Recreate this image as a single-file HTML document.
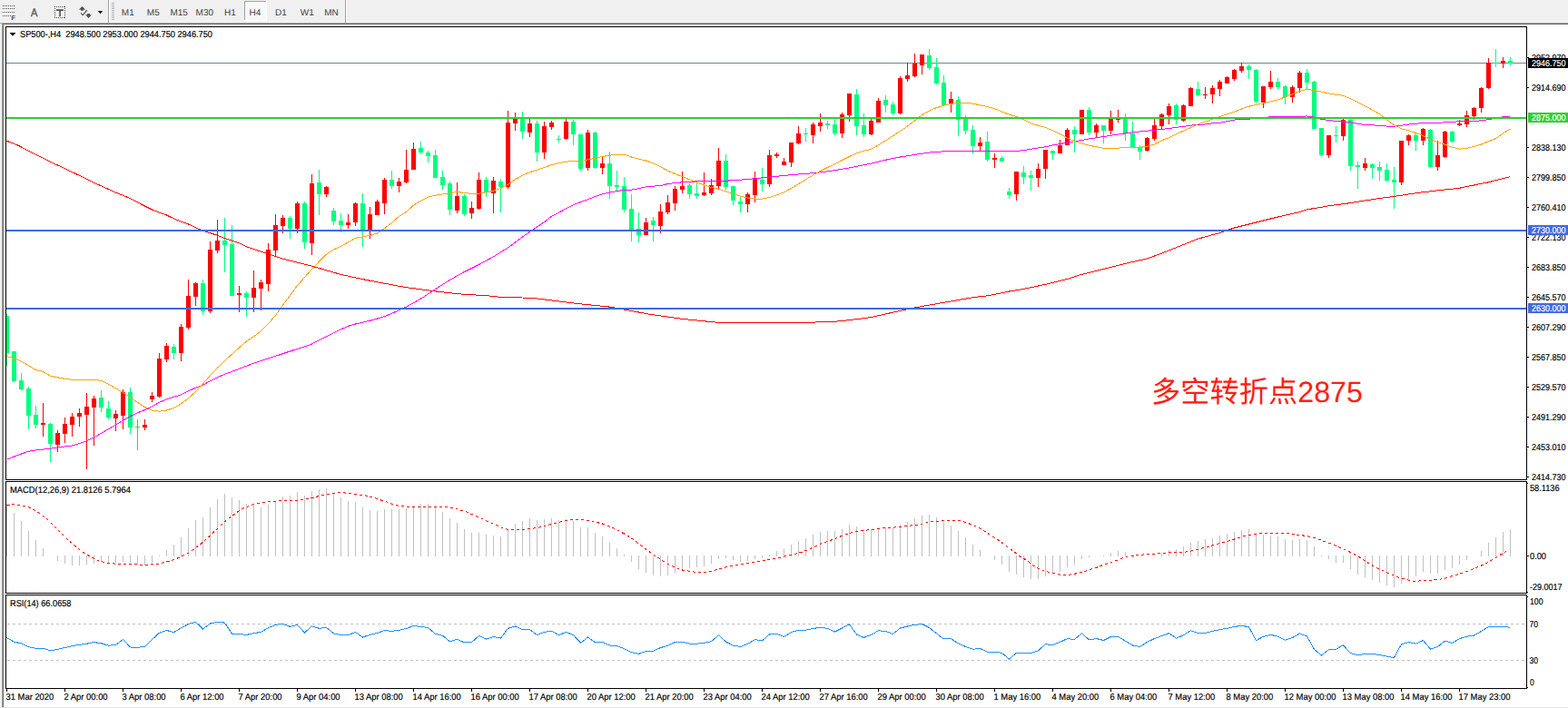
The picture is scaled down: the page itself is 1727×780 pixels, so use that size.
<!DOCTYPE html>
<html><head><meta charset="utf-8"><title>SP500-,H4</title>
<style>html,body{margin:0;padding:0;background:#fff;}body{width:1727px;height:780px;overflow:hidden;font-family:"Liberation Sans",sans-serif;}svg{display:block;}text{font-family:"Liberation Sans",sans-serif;}</style>
</head><body>
<svg width="1727" height="780" viewBox="0 0 1727 780" shape-rendering="crispEdges" text-rendering="geometricPrecision" font-family="Liberation Sans, sans-serif">
<rect x="0" y="0" width="1727" height="780" fill="#ffffff"/>
<rect x="0" y="0" width="1727" height="25" fill="#f0f0f0"/>
<rect x="0" y="25" width="2" height="755" fill="#f0f0f0"/>
<rect x="2" y="25" width="1" height="755" fill="#a0a0a0"/>
<rect x="3" y="26" width="1" height="754" fill="#696969"/>
<rect x="0" y="25" width="1727" height="1" fill="#a0a0a0"/>
<rect x="3" y="26" width="1724" height="1" fill="#696969"/>
<rect x="0" y="779" width="1727" height="1" fill="#e3e3e3"/>
<rect x="0" y="24" width="1727" height="1" fill="#f7f7f7"/>
<rect x="6" y="29" width="1676" height="1" fill="#000"/>
<rect x="6" y="528" width="1676" height="1" fill="#000"/>
<rect x="6" y="29" width="1" height="500" fill="#000"/>
<rect x="1681" y="29" width="1" height="500" fill="#000"/>
<rect x="6" y="530" width="1676" height="1" fill="#000"/>
<rect x="6" y="653" width="1676" height="1" fill="#000"/>
<rect x="6" y="530" width="1" height="124" fill="#000"/>
<rect x="1681" y="530" width="1" height="124" fill="#000"/>
<rect x="6" y="655" width="1676" height="1" fill="#000"/>
<rect x="6" y="758" width="1676" height="1" fill="#000"/>
<rect x="6" y="655" width="1" height="104" fill="#000"/>
<rect x="1681" y="655" width="1" height="104" fill="#000"/>
<rect x="7" y="69" width="1674" height="1" fill="#708090"/>
<g>
<rect x="7" y="346" width="1" height="57" fill="#00ff7f"/>
<rect x="7" y="348" width="3" height="41" fill="#00ff7f"/>
<rect x="15" y="387" width="1" height="34" fill="#00ff7f"/>
<rect x="13" y="387" width="5" height="33" fill="#00ff7f"/>
<rect x="23" y="411" width="1" height="19" fill="#00ff7f"/>
<rect x="21" y="419" width="5" height="10" fill="#00ff7f"/>
<rect x="31" y="426" width="1" height="47" fill="#00ff7f"/>
<rect x="29" y="428" width="5" height="30" fill="#00ff7f"/>
<rect x="39" y="447" width="1" height="25" fill="#00ff7f"/>
<rect x="37" y="457" width="5" height="11" fill="#00ff7f"/>
<rect x="47" y="444" width="1" height="37" fill="#ff0000"/>
<rect x="45" y="466" width="5" height="2" fill="#ff0000"/>
<rect x="55" y="466" width="1" height="43" fill="#00ff7f"/>
<rect x="53" y="467" width="5" height="22" fill="#00ff7f"/>
<rect x="63" y="474" width="1" height="24" fill="#ff0000"/>
<rect x="61" y="477" width="5" height="13" fill="#ff0000"/>
<rect x="71" y="460" width="1" height="28" fill="#ff0000"/>
<rect x="69" y="467" width="5" height="11" fill="#ff0000"/>
<rect x="79" y="455" width="1" height="26" fill="#ff0000"/>
<rect x="77" y="459" width="5" height="9" fill="#ff0000"/>
<rect x="87" y="450" width="1" height="20" fill="#ff0000"/>
<rect x="85" y="455" width="5" height="4" fill="#ff0000"/>
<rect x="95" y="433" width="1" height="84" fill="#ff0000"/>
<rect x="93" y="448" width="5" height="9" fill="#ff0000"/>
<rect x="103" y="436" width="1" height="55" fill="#ff0000"/>
<rect x="101" y="439" width="5" height="10" fill="#ff0000"/>
<rect x="111" y="430" width="1" height="24" fill="#00ff7f"/>
<rect x="109" y="438" width="5" height="11" fill="#00ff7f"/>
<rect x="119" y="442" width="1" height="20" fill="#00ff7f"/>
<rect x="117" y="450" width="5" height="10" fill="#00ff7f"/>
<rect x="127" y="452" width="1" height="23" fill="#ff0000"/>
<rect x="125" y="456" width="5" height="5" fill="#ff0000"/>
<rect x="135" y="429" width="1" height="44" fill="#ff0000"/>
<rect x="133" y="432" width="5" height="26" fill="#ff0000"/>
<rect x="143" y="427" width="1" height="51" fill="#00ff7f"/>
<rect x="141" y="432" width="5" height="39" fill="#00ff7f"/>
<rect x="151" y="462" width="1" height="34" fill="#00ff00"/>
<rect x="149" y="470" width="5" height="1" fill="#00ff00"/>
<rect x="159" y="462" width="1" height="12" fill="#ff0000"/>
<rect x="157" y="468" width="5" height="3" fill="#ff0000"/>
<rect x="167" y="432" width="1" height="11" fill="#ff0000"/>
<rect x="165" y="436" width="5" height="4" fill="#ff0000"/>
<rect x="175" y="389" width="1" height="49" fill="#ff0000"/>
<rect x="173" y="395" width="5" height="42" fill="#ff0000"/>
<rect x="183" y="378" width="1" height="21" fill="#ff0000"/>
<rect x="181" y="381" width="5" height="15" fill="#ff0000"/>
<rect x="191" y="379" width="1" height="17" fill="#00ff7f"/>
<rect x="189" y="382" width="5" height="7" fill="#00ff7f"/>
<rect x="199" y="357" width="1" height="41" fill="#ff0000"/>
<rect x="197" y="360" width="5" height="29" fill="#ff0000"/>
<rect x="207" y="308" width="1" height="55" fill="#ff0000"/>
<rect x="205" y="326" width="5" height="35" fill="#ff0000"/>
<rect x="215" y="311" width="1" height="26" fill="#ff0000"/>
<rect x="213" y="312" width="5" height="15" fill="#ff0000"/>
<rect x="223" y="308" width="1" height="39" fill="#00ff7f"/>
<rect x="221" y="312" width="5" height="31" fill="#00ff7f"/>
<rect x="231" y="266" width="1" height="79" fill="#ff0000"/>
<rect x="229" y="275" width="5" height="68" fill="#ff0000"/>
<rect x="239" y="242" width="1" height="37" fill="#ff0000"/>
<rect x="237" y="265" width="5" height="11" fill="#ff0000"/>
<rect x="247" y="240" width="1" height="60" fill="#00ff7f"/>
<rect x="245" y="265" width="5" height="5" fill="#00ff7f"/>
<rect x="255" y="248" width="1" height="78" fill="#00ff7f"/>
<rect x="253" y="269" width="5" height="57" fill="#00ff7f"/>
<rect x="263" y="315" width="1" height="29" fill="#ff0000"/>
<rect x="261" y="323" width="5" height="2" fill="#ff0000"/>
<rect x="271" y="321" width="1" height="28" fill="#00ff7f"/>
<rect x="269" y="323" width="5" height="5" fill="#00ff7f"/>
<rect x="279" y="298" width="1" height="46" fill="#ff0000"/>
<rect x="277" y="317" width="5" height="11" fill="#ff0000"/>
<rect x="287" y="308" width="1" height="34" fill="#ff0000"/>
<rect x="285" y="311" width="5" height="7" fill="#ff0000"/>
<rect x="295" y="268" width="1" height="53" fill="#ff0000"/>
<rect x="293" y="275" width="5" height="38" fill="#ff0000"/>
<rect x="303" y="236" width="1" height="46" fill="#ff0000"/>
<rect x="301" y="248" width="5" height="28" fill="#ff0000"/>
<rect x="311" y="237" width="1" height="20" fill="#ff0000"/>
<rect x="309" y="240" width="5" height="9" fill="#ff0000"/>
<rect x="319" y="238" width="1" height="25" fill="#00ff7f"/>
<rect x="317" y="240" width="5" height="12" fill="#00ff7f"/>
<rect x="327" y="222" width="1" height="35" fill="#ff0000"/>
<rect x="325" y="224" width="5" height="28" fill="#ff0000"/>
<rect x="335" y="222" width="1" height="52" fill="#00ff7f"/>
<rect x="333" y="224" width="5" height="43" fill="#00ff7f"/>
<rect x="343" y="192" width="1" height="89" fill="#ff0000"/>
<rect x="341" y="202" width="5" height="66" fill="#ff0000"/>
<rect x="351" y="187" width="1" height="50" fill="#00ff7f"/>
<rect x="349" y="201" width="5" height="13" fill="#00ff7f"/>
<rect x="359" y="205" width="1" height="12" fill="#ff0000"/>
<rect x="357" y="206" width="5" height="8" fill="#ff0000"/>
<rect x="367" y="229" width="1" height="19" fill="#00ff7f"/>
<rect x="365" y="232" width="5" height="12" fill="#00ff7f"/>
<rect x="375" y="235" width="1" height="21" fill="#00ff7f"/>
<rect x="373" y="243" width="5" height="5" fill="#00ff7f"/>
<rect x="383" y="236" width="1" height="16" fill="#ff0000"/>
<rect x="381" y="245" width="5" height="3" fill="#ff0000"/>
<rect x="391" y="223" width="1" height="26" fill="#ff0000"/>
<rect x="389" y="224" width="5" height="21" fill="#ff0000"/>
<rect x="399" y="213" width="1" height="59" fill="#00ff7f"/>
<rect x="397" y="224" width="5" height="29" fill="#00ff7f"/>
<rect x="407" y="228" width="1" height="35" fill="#ff0000"/>
<rect x="405" y="236" width="5" height="17" fill="#ff0000"/>
<rect x="415" y="220" width="1" height="17" fill="#ff0000"/>
<rect x="413" y="222" width="5" height="15" fill="#ff0000"/>
<rect x="423" y="196" width="1" height="40" fill="#ff0000"/>
<rect x="421" y="198" width="5" height="26" fill="#ff0000"/>
<rect x="431" y="188" width="1" height="20" fill="#00ff7f"/>
<rect x="429" y="198" width="5" height="7" fill="#00ff7f"/>
<rect x="439" y="196" width="1" height="16" fill="#ff0000"/>
<rect x="437" y="200" width="5" height="5" fill="#ff0000"/>
<rect x="447" y="165" width="1" height="37" fill="#ff0000"/>
<rect x="445" y="187" width="5" height="14" fill="#ff0000"/>
<rect x="455" y="157" width="1" height="30" fill="#ff0000"/>
<rect x="453" y="164" width="5" height="23" fill="#ff0000"/>
<rect x="463" y="156" width="1" height="14" fill="#00ff7f"/>
<rect x="461" y="163" width="5" height="5" fill="#00ff7f"/>
<rect x="471" y="166" width="1" height="13" fill="#00ff7f"/>
<rect x="469" y="168" width="5" height="4" fill="#00ff7f"/>
<rect x="479" y="165" width="1" height="31" fill="#00ff7f"/>
<rect x="477" y="171" width="5" height="25" fill="#00ff7f"/>
<rect x="487" y="188" width="1" height="21" fill="#00ff7f"/>
<rect x="485" y="195" width="5" height="9" fill="#00ff7f"/>
<rect x="495" y="200" width="1" height="37" fill="#00ff7f"/>
<rect x="493" y="202" width="5" height="29" fill="#00ff7f"/>
<rect x="503" y="201" width="1" height="34" fill="#ff0000"/>
<rect x="501" y="216" width="5" height="16" fill="#ff0000"/>
<rect x="511" y="214" width="1" height="24" fill="#00ff7f"/>
<rect x="509" y="216" width="5" height="20" fill="#00ff7f"/>
<rect x="519" y="222" width="1" height="19" fill="#ff0000"/>
<rect x="517" y="229" width="5" height="6" fill="#ff0000"/>
<rect x="527" y="190" width="1" height="41" fill="#ff0000"/>
<rect x="525" y="198" width="5" height="32" fill="#ff0000"/>
<rect x="535" y="195" width="1" height="22" fill="#00ff7f"/>
<rect x="533" y="198" width="5" height="14" fill="#00ff7f"/>
<rect x="543" y="195" width="1" height="40" fill="#ff0000"/>
<rect x="541" y="199" width="5" height="14" fill="#ff0000"/>
<rect x="551" y="197" width="1" height="37" fill="#00ff7f"/>
<rect x="549" y="200" width="5" height="6" fill="#00ff7f"/>
<rect x="559" y="122" width="1" height="86" fill="#ff0000"/>
<rect x="557" y="135" width="5" height="71" fill="#ff0000"/>
<rect x="567" y="124" width="1" height="20" fill="#ff0000"/>
<rect x="565" y="131" width="5" height="5" fill="#ff0000"/>
<rect x="575" y="123" width="1" height="30" fill="#00ff7f"/>
<rect x="573" y="131" width="5" height="14" fill="#00ff7f"/>
<rect x="583" y="131" width="1" height="20" fill="#ff0000"/>
<rect x="581" y="136" width="5" height="10" fill="#ff0000"/>
<rect x="591" y="133" width="1" height="45" fill="#00ff7f"/>
<rect x="589" y="136" width="5" height="32" fill="#00ff7f"/>
<rect x="599" y="134" width="1" height="41" fill="#ff0000"/>
<rect x="597" y="139" width="5" height="29" fill="#ff0000"/>
<rect x="607" y="133" width="1" height="10" fill="#ff0000"/>
<rect x="605" y="135" width="5" height="5" fill="#ff0000"/>
<rect x="615" y="149" width="1" height="8" fill="#00ff7f"/>
<rect x="613" y="153" width="5" height="1" fill="#00ff7f"/>
<rect x="623" y="131" width="1" height="23" fill="#ff0000"/>
<rect x="621" y="134" width="5" height="19" fill="#ff0000"/>
<rect x="631" y="132" width="1" height="28" fill="#00ff7f"/>
<rect x="629" y="134" width="5" height="14" fill="#00ff7f"/>
<rect x="639" y="148" width="1" height="40" fill="#00ff7f"/>
<rect x="637" y="148" width="5" height="38" fill="#00ff7f"/>
<rect x="647" y="143" width="1" height="45" fill="#ff0000"/>
<rect x="645" y="146" width="5" height="39" fill="#ff0000"/>
<rect x="655" y="145" width="1" height="41" fill="#00ff7f"/>
<rect x="653" y="146" width="5" height="39" fill="#00ff7f"/>
<rect x="663" y="173" width="1" height="19" fill="#ff0000"/>
<rect x="661" y="180" width="5" height="5" fill="#ff0000"/>
<rect x="671" y="167" width="1" height="52" fill="#00ff7f"/>
<rect x="669" y="180" width="5" height="25" fill="#00ff7f"/>
<rect x="679" y="188" width="1" height="22" fill="#00ff7f"/>
<rect x="677" y="204" width="5" height="2" fill="#00ff7f"/>
<rect x="687" y="195" width="1" height="39" fill="#00ff7f"/>
<rect x="685" y="205" width="5" height="26" fill="#00ff7f"/>
<rect x="695" y="214" width="1" height="52" fill="#00ff7f"/>
<rect x="693" y="230" width="5" height="24" fill="#00ff7f"/>
<rect x="703" y="234" width="1" height="33" fill="#00ff7f"/>
<rect x="701" y="252" width="5" height="7" fill="#00ff7f"/>
<rect x="711" y="240" width="1" height="19" fill="#ff0000"/>
<rect x="709" y="245" width="5" height="14" fill="#ff0000"/>
<rect x="719" y="239" width="1" height="27" fill="#00ff7f"/>
<rect x="717" y="243" width="5" height="5" fill="#00ff7f"/>
<rect x="727" y="225" width="1" height="32" fill="#ff0000"/>
<rect x="725" y="233" width="5" height="16" fill="#ff0000"/>
<rect x="735" y="215" width="1" height="21" fill="#ff0000"/>
<rect x="733" y="223" width="5" height="11" fill="#ff0000"/>
<rect x="743" y="205" width="1" height="27" fill="#ff0000"/>
<rect x="741" y="208" width="5" height="16" fill="#ff0000"/>
<rect x="751" y="189" width="1" height="24" fill="#ff0000"/>
<rect x="749" y="205" width="5" height="4" fill="#ff0000"/>
<rect x="759" y="202" width="1" height="17" fill="#00ff7f"/>
<rect x="757" y="204" width="5" height="10" fill="#00ff7f"/>
<rect x="767" y="199" width="1" height="20" fill="#00ff7f"/>
<rect x="765" y="213" width="5" height="3" fill="#00ff7f"/>
<rect x="775" y="190" width="1" height="26" fill="#ff0000"/>
<rect x="773" y="212" width="5" height="3" fill="#ff0000"/>
<rect x="783" y="197" width="1" height="18" fill="#ff0000"/>
<rect x="781" y="204" width="5" height="9" fill="#ff0000"/>
<rect x="791" y="163" width="1" height="45" fill="#ff0000"/>
<rect x="789" y="177" width="5" height="28" fill="#ff0000"/>
<rect x="799" y="170" width="1" height="39" fill="#00ff7f"/>
<rect x="797" y="177" width="5" height="29" fill="#00ff7f"/>
<rect x="807" y="205" width="1" height="21" fill="#00ff7f"/>
<rect x="805" y="205" width="5" height="16" fill="#00ff7f"/>
<rect x="815" y="217" width="1" height="17" fill="#00ff7f"/>
<rect x="813" y="222" width="5" height="3" fill="#00ff7f"/>
<rect x="823" y="212" width="1" height="22" fill="#ff0000"/>
<rect x="821" y="214" width="5" height="11" fill="#ff0000"/>
<rect x="831" y="189" width="1" height="34" fill="#ff0000"/>
<rect x="829" y="197" width="5" height="18" fill="#ff0000"/>
<rect x="839" y="185" width="1" height="26" fill="#00ff7f"/>
<rect x="837" y="198" width="5" height="5" fill="#00ff7f"/>
<rect x="847" y="165" width="1" height="41" fill="#ff0000"/>
<rect x="845" y="171" width="5" height="32" fill="#ff0000"/>
<rect x="855" y="168" width="1" height="6" fill="#ff0000"/>
<rect x="853" y="170" width="5" height="2" fill="#ff0000"/>
<rect x="863" y="174" width="1" height="8" fill="#ff0000"/>
<rect x="861" y="178" width="5" height="4" fill="#ff0000"/>
<rect x="871" y="157" width="1" height="27" fill="#ff0000"/>
<rect x="869" y="157" width="5" height="22" fill="#ff0000"/>
<rect x="879" y="139" width="1" height="20" fill="#ff0000"/>
<rect x="877" y="147" width="5" height="11" fill="#ff0000"/>
<rect x="887" y="141" width="1" height="15" fill="#00ff7f"/>
<rect x="885" y="147" width="5" height="1" fill="#00ff7f"/>
<rect x="895" y="135" width="1" height="23" fill="#ff0000"/>
<rect x="893" y="137" width="5" height="12" fill="#ff0000"/>
<rect x="903" y="125" width="1" height="20" fill="#ff0000"/>
<rect x="901" y="135" width="5" height="4" fill="#ff0000"/>
<rect x="911" y="133" width="1" height="9" fill="#00ff7f"/>
<rect x="909" y="136" width="5" height="2" fill="#00ff7f"/>
<rect x="919" y="132" width="1" height="17" fill="#00ff7f"/>
<rect x="917" y="137" width="5" height="10" fill="#00ff7f"/>
<rect x="927" y="124" width="1" height="28" fill="#ff0000"/>
<rect x="925" y="126" width="5" height="21" fill="#ff0000"/>
<rect x="935" y="103" width="1" height="31" fill="#ff0000"/>
<rect x="933" y="103" width="5" height="24" fill="#ff0000"/>
<rect x="943" y="98" width="1" height="51" fill="#00ff7f"/>
<rect x="941" y="104" width="5" height="35" fill="#00ff7f"/>
<rect x="951" y="125" width="1" height="26" fill="#00ff7f"/>
<rect x="949" y="138" width="5" height="10" fill="#00ff7f"/>
<rect x="959" y="131" width="1" height="18" fill="#ff0000"/>
<rect x="957" y="133" width="5" height="15" fill="#ff0000"/>
<rect x="967" y="108" width="1" height="27" fill="#ff0000"/>
<rect x="965" y="111" width="5" height="24" fill="#ff0000"/>
<rect x="975" y="105" width="1" height="19" fill="#00ff7f"/>
<rect x="973" y="110" width="5" height="6" fill="#00ff7f"/>
<rect x="983" y="112" width="1" height="15" fill="#00ff7f"/>
<rect x="981" y="115" width="5" height="10" fill="#00ff7f"/>
<rect x="991" y="84" width="1" height="42" fill="#ff0000"/>
<rect x="989" y="86" width="5" height="39" fill="#ff0000"/>
<rect x="999" y="69" width="1" height="21" fill="#ff0000"/>
<rect x="997" y="83" width="5" height="4" fill="#ff0000"/>
<rect x="1007" y="59" width="1" height="26" fill="#ff0000"/>
<rect x="1005" y="70" width="5" height="14" fill="#ff0000"/>
<rect x="1015" y="60" width="1" height="22" fill="#ff0000"/>
<rect x="1013" y="60" width="5" height="12" fill="#ff0000"/>
<rect x="1023" y="54" width="1" height="23" fill="#00ff7f"/>
<rect x="1021" y="61" width="5" height="14" fill="#00ff7f"/>
<rect x="1031" y="64" width="1" height="29" fill="#00ff7f"/>
<rect x="1029" y="74" width="5" height="18" fill="#00ff7f"/>
<rect x="1039" y="83" width="1" height="33" fill="#00ff7f"/>
<rect x="1037" y="91" width="5" height="25" fill="#00ff7f"/>
<rect x="1047" y="101" width="1" height="23" fill="#ff0000"/>
<rect x="1045" y="109" width="5" height="6" fill="#ff0000"/>
<rect x="1055" y="106" width="1" height="44" fill="#00ff7f"/>
<rect x="1053" y="110" width="5" height="22" fill="#00ff7f"/>
<rect x="1063" y="127" width="1" height="21" fill="#00ff7f"/>
<rect x="1061" y="130" width="5" height="14" fill="#00ff7f"/>
<rect x="1071" y="138" width="1" height="31" fill="#00ff7f"/>
<rect x="1069" y="143" width="5" height="18" fill="#00ff7f"/>
<rect x="1079" y="151" width="1" height="15" fill="#ff0000"/>
<rect x="1077" y="157" width="5" height="4" fill="#ff0000"/>
<rect x="1087" y="145" width="1" height="33" fill="#00ff7f"/>
<rect x="1085" y="156" width="5" height="20" fill="#00ff7f"/>
<rect x="1095" y="169" width="1" height="16" fill="#ff0000"/>
<rect x="1093" y="174" width="5" height="2" fill="#ff0000"/>
<rect x="1103" y="172" width="1" height="6" fill="#00ff7f"/>
<rect x="1101" y="174" width="5" height="4" fill="#00ff7f"/>
<rect x="1111" y="207" width="1" height="12" fill="#00ff7f"/>
<rect x="1109" y="211" width="5" height="4" fill="#00ff7f"/>
<rect x="1119" y="189" width="1" height="32" fill="#ff0000"/>
<rect x="1117" y="189" width="5" height="25" fill="#ff0000"/>
<rect x="1127" y="183" width="1" height="20" fill="#00ff7f"/>
<rect x="1125" y="190" width="5" height="5" fill="#00ff7f"/>
<rect x="1135" y="188" width="1" height="22" fill="#00ff7f"/>
<rect x="1133" y="193" width="5" height="3" fill="#00ff7f"/>
<rect x="1143" y="180" width="1" height="26" fill="#ff0000"/>
<rect x="1141" y="186" width="5" height="10" fill="#ff0000"/>
<rect x="1151" y="165" width="1" height="32" fill="#ff0000"/>
<rect x="1149" y="165" width="5" height="21" fill="#ff0000"/>
<rect x="1159" y="166" width="1" height="10" fill="#00ff7f"/>
<rect x="1157" y="166" width="5" height="3" fill="#00ff7f"/>
<rect x="1167" y="154" width="1" height="15" fill="#ff0000"/>
<rect x="1165" y="160" width="5" height="9" fill="#ff0000"/>
<rect x="1175" y="141" width="1" height="19" fill="#ff0000"/>
<rect x="1173" y="143" width="5" height="17" fill="#ff0000"/>
<rect x="1183" y="139" width="1" height="29" fill="#00ff7f"/>
<rect x="1181" y="143" width="5" height="5" fill="#00ff7f"/>
<rect x="1189" y="121" width="5" height="27" fill="#ff0000"/>
<rect x="1199" y="118" width="1" height="31" fill="#00ff7f"/>
<rect x="1197" y="121" width="5" height="25" fill="#00ff7f"/>
<rect x="1207" y="136" width="1" height="15" fill="#ff0000"/>
<rect x="1205" y="138" width="5" height="8" fill="#ff0000"/>
<rect x="1215" y="138" width="1" height="20" fill="#00ff7f"/>
<rect x="1213" y="138" width="5" height="6" fill="#00ff7f"/>
<rect x="1223" y="122" width="1" height="26" fill="#ff0000"/>
<rect x="1221" y="131" width="5" height="13" fill="#ff0000"/>
<rect x="1231" y="121" width="1" height="14" fill="#ff0000"/>
<rect x="1229" y="131" width="5" height="1" fill="#ff0000"/>
<rect x="1239" y="125" width="1" height="30" fill="#00ff7f"/>
<rect x="1237" y="131" width="5" height="16" fill="#00ff7f"/>
<rect x="1247" y="134" width="1" height="28" fill="#00ff7f"/>
<rect x="1245" y="147" width="5" height="15" fill="#00ff7f"/>
<rect x="1255" y="160" width="1" height="16" fill="#00ff7f"/>
<rect x="1253" y="163" width="5" height="4" fill="#00ff7f"/>
<rect x="1263" y="151" width="1" height="16" fill="#ff0000"/>
<rect x="1261" y="152" width="5" height="14" fill="#ff0000"/>
<rect x="1271" y="131" width="1" height="24" fill="#ff0000"/>
<rect x="1269" y="138" width="5" height="15" fill="#ff0000"/>
<rect x="1279" y="125" width="1" height="17" fill="#ff0000"/>
<rect x="1277" y="126" width="5" height="13" fill="#ff0000"/>
<rect x="1287" y="114" width="1" height="23" fill="#ff0000"/>
<rect x="1285" y="117" width="5" height="10" fill="#ff0000"/>
<rect x="1295" y="114" width="1" height="23" fill="#00ff7f"/>
<rect x="1293" y="116" width="5" height="16" fill="#00ff7f"/>
<rect x="1303" y="115" width="1" height="19" fill="#ff0000"/>
<rect x="1301" y="116" width="5" height="17" fill="#ff0000"/>
<rect x="1311" y="96" width="1" height="21" fill="#ff0000"/>
<rect x="1309" y="97" width="5" height="20" fill="#ff0000"/>
<rect x="1319" y="90" width="1" height="16" fill="#00ff7f"/>
<rect x="1317" y="98" width="5" height="7" fill="#00ff7f"/>
<rect x="1327" y="96" width="1" height="13" fill="#ff0000"/>
<rect x="1325" y="104" width="5" height="1" fill="#ff0000"/>
<rect x="1335" y="94" width="1" height="20" fill="#ff0000"/>
<rect x="1333" y="97" width="5" height="7" fill="#ff0000"/>
<rect x="1343" y="88" width="1" height="18" fill="#ff0000"/>
<rect x="1341" y="90" width="5" height="8" fill="#ff0000"/>
<rect x="1351" y="84" width="1" height="8" fill="#ff0000"/>
<rect x="1349" y="85" width="5" height="7" fill="#ff0000"/>
<rect x="1359" y="76" width="1" height="13" fill="#ff0000"/>
<rect x="1357" y="77" width="5" height="10" fill="#ff0000"/>
<rect x="1367" y="69" width="1" height="11" fill="#ff0000"/>
<rect x="1365" y="73" width="5" height="5" fill="#ff0000"/>
<rect x="1375" y="71" width="1" height="16" fill="#00ff7f"/>
<rect x="1373" y="73" width="5" height="4" fill="#00ff7f"/>
<rect x="1383" y="76" width="1" height="38" fill="#00ff7f"/>
<rect x="1381" y="77" width="5" height="35" fill="#00ff7f"/>
<rect x="1391" y="95" width="1" height="24" fill="#ff0000"/>
<rect x="1389" y="95" width="5" height="18" fill="#ff0000"/>
<rect x="1399" y="78" width="1" height="20" fill="#ff0000"/>
<rect x="1397" y="90" width="5" height="6" fill="#ff0000"/>
<rect x="1407" y="86" width="1" height="13" fill="#00ff7f"/>
<rect x="1405" y="90" width="5" height="6" fill="#00ff7f"/>
<rect x="1415" y="94" width="1" height="21" fill="#00ff7f"/>
<rect x="1413" y="95" width="5" height="12" fill="#00ff7f"/>
<rect x="1423" y="94" width="1" height="19" fill="#ff0000"/>
<rect x="1421" y="96" width="5" height="11" fill="#ff0000"/>
<rect x="1431" y="78" width="1" height="24" fill="#ff0000"/>
<rect x="1429" y="80" width="5" height="17" fill="#ff0000"/>
<rect x="1439" y="76" width="1" height="22" fill="#00ff7f"/>
<rect x="1437" y="80" width="5" height="11" fill="#00ff7f"/>
<rect x="1447" y="89" width="1" height="53" fill="#00ff7f"/>
<rect x="1445" y="90" width="5" height="52" fill="#00ff7f"/>
<rect x="1455" y="141" width="1" height="31" fill="#00ff7f"/>
<rect x="1453" y="141" width="5" height="30" fill="#00ff7f"/>
<rect x="1463" y="149" width="1" height="25" fill="#ff0000"/>
<rect x="1461" y="149" width="5" height="22" fill="#ff0000"/>
<rect x="1471" y="139" width="1" height="18" fill="#00ff7f"/>
<rect x="1469" y="149" width="5" height="1" fill="#00ff7f"/>
<rect x="1479" y="131" width="1" height="24" fill="#ff0000"/>
<rect x="1477" y="132" width="5" height="18" fill="#ff0000"/>
<rect x="1487" y="131" width="1" height="57" fill="#00ff7f"/>
<rect x="1485" y="132" width="5" height="51" fill="#00ff7f"/>
<rect x="1495" y="178" width="1" height="30" fill="#00ff7f"/>
<rect x="1493" y="182" width="5" height="2" fill="#00ff7f"/>
<rect x="1503" y="174" width="1" height="14" fill="#ff0000"/>
<rect x="1501" y="180" width="5" height="5" fill="#ff0000"/>
<rect x="1511" y="180" width="1" height="17" fill="#00ff7f"/>
<rect x="1509" y="181" width="5" height="4" fill="#00ff7f"/>
<rect x="1519" y="178" width="1" height="21" fill="#00ff7f"/>
<rect x="1517" y="184" width="5" height="4" fill="#00ff7f"/>
<rect x="1527" y="180" width="1" height="20" fill="#00ff7f"/>
<rect x="1525" y="187" width="5" height="12" fill="#00ff7f"/>
<rect x="1535" y="184" width="1" height="46" fill="#00ff7f"/>
<rect x="1533" y="198" width="5" height="3" fill="#00ff7f"/>
<rect x="1543" y="155" width="1" height="49" fill="#ff0000"/>
<rect x="1541" y="155" width="5" height="46" fill="#ff0000"/>
<rect x="1551" y="148" width="1" height="12" fill="#ff0000"/>
<rect x="1549" y="149" width="5" height="6" fill="#ff0000"/>
<rect x="1559" y="147" width="1" height="19" fill="#00ff7f"/>
<rect x="1557" y="149" width="5" height="6" fill="#00ff7f"/>
<rect x="1567" y="141" width="1" height="19" fill="#ff0000"/>
<rect x="1565" y="142" width="5" height="13" fill="#ff0000"/>
<rect x="1575" y="142" width="1" height="43" fill="#00ff7f"/>
<rect x="1573" y="143" width="5" height="41" fill="#00ff7f"/>
<rect x="1583" y="155" width="1" height="33" fill="#ff0000"/>
<rect x="1581" y="171" width="5" height="13" fill="#ff0000"/>
<rect x="1591" y="144" width="1" height="30" fill="#ff0000"/>
<rect x="1589" y="145" width="5" height="28" fill="#ff0000"/>
<rect x="1599" y="144" width="1" height="13" fill="#00ff7f"/>
<rect x="1597" y="145" width="5" height="11" fill="#00ff7f"/>
<rect x="1607" y="132" width="1" height="7" fill="#ff0000"/>
<rect x="1605" y="136" width="5" height="2" fill="#ff0000"/>
<rect x="1615" y="122" width="1" height="18" fill="#ff0000"/>
<rect x="1613" y="127" width="5" height="10" fill="#ff0000"/>
<rect x="1623" y="118" width="1" height="14" fill="#ff0000"/>
<rect x="1621" y="119" width="5" height="9" fill="#ff0000"/>
<rect x="1631" y="96" width="1" height="28" fill="#ff0000"/>
<rect x="1629" y="97" width="5" height="22" fill="#ff0000"/>
<rect x="1639" y="64" width="1" height="34" fill="#ff0000"/>
<rect x="1637" y="69" width="5" height="28" fill="#ff0000"/>
<rect x="1647" y="54" width="1" height="20" fill="#00ff7f"/>
<rect x="1645" y="69" width="5" height="1" fill="#00ff7f"/>
<rect x="1655" y="63" width="1" height="12" fill="#ff0000"/>
<rect x="1653" y="67" width="5" height="3" fill="#ff0000"/>
<rect x="1663" y="63" width="1" height="9" fill="#00ff7f"/>
<rect x="1661" y="67" width="5" height="3" fill="#00ff7f"/>
</g>
<g>
<polyline points="7.5,155.3 15.5,158.1 23.5,162.0 31.5,166.3 39.5,170.3 47.5,174.3 55.5,178.2 63.5,182.0 71.5,185.8 79.5,189.6 87.5,193.4 95.5,197.3 103.5,201.2 111.5,204.9 119.5,208.5 127.5,212.1 135.5,215.3 143.5,218.7 151.5,222.9 159.5,227.0 167.5,231.0 175.5,234.1 183.5,237.0 191.5,240.9 199.5,244.2 207.5,247.0 215.5,250.8 223.5,254.2 231.5,256.7 239.5,259.3 247.5,262.5 255.5,265.1 263.5,267.9 271.5,271.7 279.5,274.4 287.5,277.1 295.5,279.8 303.5,282.6 311.5,285.2 319.5,287.2 327.5,289.2 335.5,291.2 343.5,293.2 351.5,295.4 359.5,297.8 367.5,300.1 375.5,302.5 383.5,304.2 391.5,305.9 399.5,307.6 407.5,309.2 415.5,310.7 423.5,312.2 431.5,313.7 439.5,315.2 447.5,316.6 455.5,317.7 463.5,318.8 471.5,319.8 479.5,320.9 487.5,321.8 495.5,322.7 503.5,323.6 511.5,324.3 519.5,324.8 527.5,325.2 535.5,325.7 543.5,326.4 551.5,327.5 559.5,327.5 567.5,327.8 575.5,328.0 583.5,328.2 591.5,328.9 599.5,329.9 607.5,330.9 615.5,332.0 623.5,333.0 631.5,334.0 639.5,334.9 647.5,335.7 655.5,336.5 663.5,337.3 671.5,338.1 679.5,339.4 687.5,341.0 695.5,342.5 703.5,344.0 711.5,345.6 719.5,346.8 727.5,347.9 735.5,349.1 743.5,350.2 751.5,351.3 759.5,352.2 767.5,353.0 775.5,353.8 783.5,354.6 791.5,355.3 799.5,355.3 807.5,355.3 815.5,355.3 823.5,355.3 831.5,355.3 839.5,355.3 847.5,355.3 855.5,355.3 863.5,355.3 871.5,355.3 879.5,355.3 887.5,355.3 895.5,355.1 903.5,354.8 911.5,354.5 919.5,354.2 927.5,353.6 935.5,352.6 943.5,351.6 951.5,350.7 959.5,349.5 967.5,347.7 975.5,345.9 983.5,344.1 991.5,342.4 999.5,340.6 1007.5,338.9 1015.5,337.5 1023.5,336.1 1031.5,334.7 1039.5,333.3 1047.5,331.9 1055.5,330.5 1063.5,329.1 1071.5,327.7 1079.5,326.7 1087.5,325.8 1095.5,324.4 1103.5,322.7 1111.5,321.0 1119.5,319.8 1127.5,318.4 1135.5,316.7 1143.5,315.0 1151.5,313.3 1159.5,311.4 1167.5,309.4 1175.5,307.4 1183.5,304.7 1191.5,302.3 1199.5,300.3 1207.5,298.3 1215.5,296.3 1223.5,294.3 1231.5,292.3 1239.5,290.3 1247.5,288.5 1255.5,286.7 1263.5,284.9 1271.5,282.0 1279.5,279.1 1287.5,275.9 1295.5,272.7 1303.5,269.5 1311.5,266.3 1319.5,263.1 1327.5,260.9 1335.5,258.7 1343.5,256.6 1351.5,253.7 1359.5,251.0 1367.5,249.0 1375.5,247.0 1383.5,245.0 1391.5,243.0 1399.5,241.0 1407.5,239.0 1415.5,237.2 1423.5,235.4 1431.5,233.6 1439.5,230.7 1447.5,229.6 1455.5,228.3 1463.5,226.8 1471.5,225.7 1479.5,224.7 1487.5,223.6 1495.5,222.3 1503.5,221.0 1511.5,219.7 1519.5,218.5 1527.5,217.4 1535.5,216.4 1543.5,215.2 1551.5,214.0 1559.5,212.8 1567.5,211.7 1575.5,210.8 1583.5,209.8 1591.5,209.0 1599.5,208.2 1607.5,207.2 1615.5,205.6 1623.5,204.0 1631.5,202.4 1639.5,200.8 1647.5,198.7 1655.5,196.5 1663.5,194.7" fill="none" stroke="#ff0000" stroke-width="1"/>
<polyline points="7.5,506.3 15.5,503.0 23.5,500.0 31.5,497.3 39.5,496.0 47.5,495.1 55.5,494.2 63.5,493.1 71.5,492.0 79.5,491.0 87.5,488.7 95.5,485.8 103.5,481.8 111.5,477.3 119.5,472.7 127.5,468.1 135.5,463.3 143.5,458.5 151.5,454.8 159.5,451.6 167.5,447.9 175.5,443.3 183.5,439.8 191.5,437.2 199.5,434.9 207.5,430.9 215.5,427.1 223.5,424.5 231.5,419.7 239.5,415.8 247.5,412.3 255.5,409.3 263.5,406.3 271.5,403.1 279.5,400.1 287.5,397.5 295.5,394.9 303.5,392.3 311.5,389.7 319.5,387.0 327.5,384.4 335.5,381.8 343.5,379.0 351.5,374.8 359.5,370.6 367.5,366.6 375.5,362.9 383.5,359.3 391.5,357.0 399.5,355.1 407.5,353.3 415.5,351.0 423.5,348.6 431.5,345.4 439.5,341.8 447.5,338.1 455.5,333.7 463.5,329.1 471.5,323.9 479.5,318.7 487.5,313.5 495.5,308.3 503.5,303.9 511.5,299.5 519.5,295.5 527.5,291.5 535.5,287.2 543.5,282.7 551.5,277.9 559.5,272.9 567.5,267.0 575.5,261.1 583.5,255.2 591.5,250.0 599.5,244.8 607.5,238.2 615.5,234.1 623.5,229.9 631.5,225.7 639.5,222.6 647.5,219.7 655.5,216.5 663.5,213.7 671.5,212.1 679.5,210.5 687.5,209.5 695.5,209.1 703.5,207.7 711.5,205.8 719.5,205.1 727.5,204.6 735.5,202.5 743.5,201.6 751.5,200.8 759.5,200.3 767.5,199.9 775.5,199.6 783.5,199.5 791.5,199.4 799.5,199.2 807.5,198.7 815.5,198.1 823.5,197.5 831.5,196.7 839.5,195.9 847.5,195.1 855.5,194.3 863.5,193.5 871.5,192.7 879.5,192.0 887.5,191.4 895.5,190.7 903.5,189.9 911.5,188.8 919.5,187.6 927.5,186.3 935.5,185.0 943.5,183.4 951.5,181.8 959.5,180.1 967.5,178.2 975.5,176.2 983.5,174.6 991.5,173.0 999.5,171.7 1007.5,170.4 1015.5,169.2 1023.5,168.1 1031.5,167.3 1039.5,166.9 1047.5,166.7 1055.5,166.7 1063.5,166.5 1071.5,166.3 1079.5,166.3 1087.5,166.3 1095.5,166.3 1103.5,166.4 1111.5,166.4 1119.5,166.5 1127.5,165.6 1135.5,164.3 1143.5,163.0 1151.5,161.8 1159.5,159.9 1167.5,158.5 1175.5,157.2 1183.5,155.8 1191.5,154.4 1199.5,153.0 1207.5,151.7 1215.5,150.5 1223.5,149.2 1231.5,148.1 1239.5,146.9 1247.5,145.8 1255.5,145.0 1263.5,144.2 1271.5,143.3 1279.5,142.4 1287.5,141.4 1295.5,140.4 1303.5,139.3 1311.5,138.2 1319.5,137.3 1327.5,137.0 1335.5,135.8 1343.5,135.3 1351.5,133.6 1359.5,132.1 1367.5,131.3 1375.5,131.1 1383.5,130.5 1391.5,129.6 1399.5,128.8 1407.5,128.3 1415.5,128.2 1423.5,128.2 1431.5,128.1 1439.5,128.0 1447.5,129.1 1455.5,131.5 1463.5,132.5 1471.5,133.5 1479.5,134.3 1487.5,135.0 1495.5,136.3 1503.5,137.6 1511.5,137.9 1519.5,138.3 1527.5,139.1 1535.5,139.2 1543.5,138.2 1551.5,137.1 1559.5,136.2 1567.5,135.5 1575.5,135.4 1583.5,135.2 1591.5,134.9 1599.5,134.3 1607.5,133.8 1615.5,133.6 1623.5,133.3 1631.5,132.9 1639.5,131.7 1647.5,130.2 1655.5,128.7 1663.5,128.0" fill="none" stroke="#ff00ff" stroke-width="1"/>
<polyline points="7.5,392.5 15.5,394.6 23.5,398.2 31.5,402.7 39.5,407.6 47.5,409.4 55.5,414.2 63.5,415.8 71.5,417.4 79.5,418.3 87.5,418.3 95.5,418.3 103.5,418.3 111.5,419.4 119.5,423.2 127.5,427.7 135.5,432.5 143.5,437.8 151.5,443.3 159.5,448.6 167.5,452.1 175.5,453.2 183.5,452.0 191.5,449.4 199.5,444.8 207.5,438.6 215.5,431.5 223.5,423.0 231.5,413.6 239.5,405.2 247.5,397.4 255.5,390.2 263.5,383.0 271.5,376.0 279.5,370.7 287.5,364.7 295.5,356.7 303.5,347.4 311.5,336.1 319.5,325.4 327.5,314.6 335.5,305.5 343.5,296.4 351.5,288.2 359.5,280.2 367.5,274.9 375.5,271.5 383.5,266.9 391.5,262.3 399.5,261.0 407.5,259.3 415.5,257.0 423.5,251.7 431.5,245.4 439.5,238.4 447.5,233.3 455.5,226.2 463.5,221.1 471.5,217.1 479.5,215.2 487.5,214.0 495.5,213.0 503.5,211.4 511.5,212.6 519.5,213.3 527.5,213.3 535.5,211.7 543.5,210.3 551.5,207.6 559.5,203.2 567.5,197.6 575.5,193.3 583.5,189.6 591.5,187.2 599.5,184.4 607.5,181.6 615.5,179.6 623.5,178.1 631.5,177.6 639.5,178.1 647.5,175.8 655.5,174.4 663.5,172.5 671.5,171.2 679.5,170.3 687.5,170.2 695.5,173.0 703.5,175.2 711.5,177.0 719.5,179.7 727.5,183.7 735.5,188.2 743.5,191.4 751.5,194.6 759.5,197.8 767.5,201.0 775.5,204.0 783.5,206.4 791.5,208.3 799.5,210.8 807.5,213.6 815.5,216.2 823.5,217.9 831.5,219.3 839.5,219.2 847.5,217.4 855.5,214.8 863.5,211.8 871.5,207.4 879.5,202.7 887.5,197.7 895.5,192.9 903.5,188.5 911.5,184.5 919.5,180.8 927.5,176.5 935.5,172.5 943.5,168.8 951.5,166.1 959.5,164.4 967.5,159.8 975.5,154.8 983.5,149.6 991.5,144.5 999.5,139.1 1007.5,133.0 1015.5,126.6 1023.5,122.1 1031.5,118.6 1039.5,116.2 1047.5,114.5 1055.5,113.5 1063.5,113.2 1071.5,114.2 1079.5,115.8 1087.5,117.6 1095.5,119.6 1103.5,123.2 1111.5,126.1 1119.5,128.5 1127.5,131.8 1135.5,135.8 1143.5,138.3 1151.5,140.5 1159.5,143.7 1167.5,147.7 1175.5,152.1 1183.5,155.4 1191.5,158.2 1199.5,160.2 1207.5,161.8 1215.5,163.3 1223.5,163.3 1231.5,163.1 1239.5,162.7 1247.5,162.5 1255.5,162.5 1263.5,161.2 1271.5,159.1 1279.5,154.8 1287.5,151.7 1295.5,147.6 1303.5,144.2 1311.5,140.6 1319.5,136.8 1327.5,134.3 1335.5,131.2 1343.5,128.5 1351.5,125.8 1359.5,123.2 1367.5,120.0 1375.5,117.2 1383.5,115.6 1391.5,113.9 1399.5,111.9 1407.5,109.9 1415.5,106.9 1423.5,103.7 1431.5,100.3 1439.5,98.5 1447.5,99.5 1455.5,101.1 1463.5,102.9 1471.5,104.2 1479.5,105.3 1487.5,108.8 1495.5,112.7 1503.5,116.7 1511.5,121.1 1519.5,125.8 1527.5,132.2 1535.5,137.7 1543.5,141.9 1551.5,143.9 1559.5,146.3 1567.5,149.6 1575.5,153.5 1583.5,156.6 1591.5,159.3 1599.5,162.2 1607.5,164.2 1615.5,163.3 1623.5,161.4 1631.5,159.0 1639.5,155.8 1647.5,152.6 1655.5,146.8 1663.5,142.2" fill="none" stroke="#ffa500" stroke-width="1"/>
</g>
<rect x="7" y="129" width="1674" height="2" fill="#32cd32"/>
<rect x="7" y="253" width="1674" height="2" fill="#4169e1"/>
<rect x="7" y="339" width="1674" height="2" fill="#4169e1"/>
<rect x="1682" y="63" width="2" height="1" fill="#000"/>
<text xml:space="preserve" x="1687" y="67" font-size="10" fill="#000" text-anchor="start" textLength="37.5" lengthAdjust="spacingAndGlyphs" stroke="#000" stroke-width="0.18">2952.970</text>
<rect x="1682" y="96" width="2" height="1" fill="#000"/>
<text xml:space="preserve" x="1687" y="100" font-size="10" fill="#000" text-anchor="start" textLength="37.5" lengthAdjust="spacingAndGlyphs" stroke="#000" stroke-width="0.18">2914.690</text>
<rect x="1682" y="162" width="2" height="1" fill="#000"/>
<text xml:space="preserve" x="1687" y="166" font-size="10" fill="#000" text-anchor="start" textLength="37.5" lengthAdjust="spacingAndGlyphs" stroke="#000" stroke-width="0.18">2838.130</text>
<rect x="1682" y="195" width="2" height="1" fill="#000"/>
<text xml:space="preserve" x="1687" y="199" font-size="10" fill="#000" text-anchor="start" textLength="37.5" lengthAdjust="spacingAndGlyphs" stroke="#000" stroke-width="0.18">2799.850</text>
<rect x="1682" y="228" width="2" height="1" fill="#000"/>
<text xml:space="preserve" x="1687" y="232" font-size="10" fill="#000" text-anchor="start" textLength="37.5" lengthAdjust="spacingAndGlyphs" stroke="#000" stroke-width="0.18">2760.410</text>
<rect x="1682" y="261" width="2" height="1" fill="#000"/>
<text xml:space="preserve" x="1687" y="265" font-size="10" fill="#000" text-anchor="start" textLength="37.5" lengthAdjust="spacingAndGlyphs" stroke="#000" stroke-width="0.18">2722.130</text>
<rect x="1682" y="294" width="2" height="1" fill="#000"/>
<text xml:space="preserve" x="1687" y="298" font-size="10" fill="#000" text-anchor="start" textLength="37.5" lengthAdjust="spacingAndGlyphs" stroke="#000" stroke-width="0.18">2683.850</text>
<rect x="1682" y="327" width="2" height="1" fill="#000"/>
<text xml:space="preserve" x="1687" y="331" font-size="10" fill="#000" text-anchor="start" textLength="37.5" lengthAdjust="spacingAndGlyphs" stroke="#000" stroke-width="0.18">2645.570</text>
<rect x="1682" y="360" width="2" height="1" fill="#000"/>
<text xml:space="preserve" x="1687" y="364" font-size="10" fill="#000" text-anchor="start" textLength="37.5" lengthAdjust="spacingAndGlyphs" stroke="#000" stroke-width="0.18">2607.290</text>
<rect x="1682" y="393" width="2" height="1" fill="#000"/>
<text xml:space="preserve" x="1687" y="397" font-size="10" fill="#000" text-anchor="start" textLength="37.5" lengthAdjust="spacingAndGlyphs" stroke="#000" stroke-width="0.18">2567.850</text>
<rect x="1682" y="426" width="2" height="1" fill="#000"/>
<text xml:space="preserve" x="1687" y="430" font-size="10" fill="#000" text-anchor="start" textLength="37.5" lengthAdjust="spacingAndGlyphs" stroke="#000" stroke-width="0.18">2529.570</text>
<rect x="1682" y="459" width="2" height="1" fill="#000"/>
<text xml:space="preserve" x="1687" y="463" font-size="10" fill="#000" text-anchor="start" textLength="37.5" lengthAdjust="spacingAndGlyphs" stroke="#000" stroke-width="0.18">2491.290</text>
<rect x="1682" y="492" width="2" height="1" fill="#000"/>
<text xml:space="preserve" x="1687" y="496" font-size="10" fill="#000" text-anchor="start" textLength="37.5" lengthAdjust="spacingAndGlyphs" stroke="#000" stroke-width="0.18">2453.010</text>
<rect x="1682" y="525" width="2" height="1" fill="#000"/>
<text xml:space="preserve" x="1687" y="529" font-size="10" fill="#000" text-anchor="start" textLength="37.5" lengthAdjust="spacingAndGlyphs" stroke="#000" stroke-width="0.18">2414.730</text>
<rect x="1683" y="64" width="44" height="11" fill="#000"/>
<text xml:space="preserve" x="1687" y="73" font-size="10" fill="#fff" text-anchor="start" textLength="37.5" lengthAdjust="spacingAndGlyphs" stroke="#fff" stroke-width="0.18">2946.750</text>
<rect x="1683" y="124" width="44" height="11" fill="#32cd32"/>
<text xml:space="preserve" x="1687" y="133" font-size="10" fill="#fff" text-anchor="start" textLength="37.5" lengthAdjust="spacingAndGlyphs" stroke="#fff" stroke-width="0.18">2875.000</text>
<rect x="1683" y="248" width="44" height="11" fill="#4169e1"/>
<text xml:space="preserve" x="1687" y="257" font-size="10" fill="#fff" text-anchor="start" textLength="37.5" lengthAdjust="spacingAndGlyphs" stroke="#fff" stroke-width="0.18">2730.000</text>
<rect x="1683" y="334" width="44" height="11" fill="#4169e1"/>
<text xml:space="preserve" x="1687" y="343" font-size="10" fill="#fff" text-anchor="start" textLength="37.5" lengthAdjust="spacingAndGlyphs" stroke="#fff" stroke-width="0.18">2630.000</text>
<path d="M10.5,36 L17.5,36 L14,39.8 Z" fill="#000" shape-rendering="auto"/>
<text xml:space="preserve" x="22" y="41" font-size="10" fill="#000" text-anchor="start" textLength="212" lengthAdjust="spacingAndGlyphs" stroke="#000" stroke-width="0.18">SP500-,H4  2948.500 2953.000 2944.750 2946.750</text>
<g>
<rect x="7" y="558" width="1" height="55" fill="#c0c0c0"/>
<rect x="15" y="565" width="1" height="48" fill="#c0c0c0"/>
<rect x="23" y="574" width="1" height="39" fill="#c0c0c0"/>
<rect x="31" y="585" width="1" height="28" fill="#c0c0c0"/>
<rect x="39" y="595" width="1" height="18" fill="#c0c0c0"/>
<rect x="47" y="604" width="1" height="9" fill="#c0c0c0"/>
<rect x="63" y="612" width="1" height="6" fill="#c0c0c0"/>
<rect x="71" y="612" width="1" height="9" fill="#c0c0c0"/>
<rect x="79" y="612" width="1" height="11" fill="#c0c0c0"/>
<rect x="87" y="612" width="1" height="11" fill="#c0c0c0"/>
<rect x="95" y="612" width="1" height="10" fill="#c0c0c0"/>
<rect x="103" y="612" width="1" height="9" fill="#c0c0c0"/>
<rect x="111" y="612" width="1" height="7" fill="#c0c0c0"/>
<rect x="119" y="612" width="1" height="8" fill="#c0c0c0"/>
<rect x="127" y="612" width="1" height="9" fill="#c0c0c0"/>
<rect x="135" y="612" width="1" height="7" fill="#c0c0c0"/>
<rect x="143" y="612" width="1" height="8" fill="#c0c0c0"/>
<rect x="151" y="612" width="1" height="10" fill="#c0c0c0"/>
<rect x="159" y="612" width="1" height="11" fill="#c0c0c0"/>
<rect x="167" y="612" width="1" height="8" fill="#c0c0c0"/>
<rect x="175" y="612" width="1" height="1" fill="#c0c0c0"/>
<rect x="183" y="606" width="1" height="7" fill="#c0c0c0"/>
<rect x="191" y="600" width="1" height="13" fill="#c0c0c0"/>
<rect x="199" y="592" width="1" height="21" fill="#c0c0c0"/>
<rect x="207" y="582" width="1" height="31" fill="#c0c0c0"/>
<rect x="215" y="573" width="1" height="40" fill="#c0c0c0"/>
<rect x="223" y="570" width="1" height="43" fill="#c0c0c0"/>
<rect x="231" y="559" width="1" height="54" fill="#c0c0c0"/>
<rect x="239" y="550" width="1" height="63" fill="#c0c0c0"/>
<rect x="247" y="544" width="1" height="69" fill="#c0c0c0"/>
<rect x="255" y="548" width="1" height="65" fill="#c0c0c0"/>
<rect x="263" y="551" width="1" height="62" fill="#c0c0c0"/>
<rect x="271" y="555" width="1" height="58" fill="#c0c0c0"/>
<rect x="279" y="557" width="1" height="56" fill="#c0c0c0"/>
<rect x="287" y="559" width="1" height="54" fill="#c0c0c0"/>
<rect x="287" y="559" width="1" height="54" fill="#c0c0c0"/>
<rect x="295" y="556" width="1" height="57" fill="#c0c0c0"/>
<rect x="303" y="552" width="1" height="61" fill="#c0c0c0"/>
<rect x="311" y="547" width="1" height="66" fill="#c0c0c0"/>
<rect x="319" y="546" width="1" height="67" fill="#c0c0c0"/>
<rect x="327" y="542" width="1" height="71" fill="#c0c0c0"/>
<rect x="335" y="546" width="1" height="67" fill="#c0c0c0"/>
<rect x="343" y="541" width="1" height="72" fill="#c0c0c0"/>
<rect x="351" y="539" width="1" height="74" fill="#c0c0c0"/>
<rect x="359" y="538" width="1" height="75" fill="#c0c0c0"/>
<rect x="367" y="543" width="1" height="70" fill="#c0c0c0"/>
<rect x="375" y="548" width="1" height="65" fill="#c0c0c0"/>
<rect x="383" y="552" width="1" height="61" fill="#c0c0c0"/>
<rect x="391" y="553" width="1" height="60" fill="#c0c0c0"/>
<rect x="399" y="559" width="1" height="54" fill="#c0c0c0"/>
<rect x="407" y="562" width="1" height="51" fill="#c0c0c0"/>
<rect x="415" y="563" width="1" height="50" fill="#c0c0c0"/>
<rect x="423" y="561" width="1" height="52" fill="#c0c0c0"/>
<rect x="431" y="561" width="1" height="52" fill="#c0c0c0"/>
<rect x="439" y="561" width="1" height="52" fill="#c0c0c0"/>
<rect x="447" y="560" width="1" height="53" fill="#c0c0c0"/>
<rect x="455" y="557" width="1" height="56" fill="#c0c0c0"/>
<rect x="463" y="555" width="1" height="58" fill="#c0c0c0"/>
<rect x="471" y="555" width="1" height="58" fill="#c0c0c0"/>
<rect x="479" y="559" width="1" height="54" fill="#c0c0c0"/>
<rect x="487" y="564" width="1" height="49" fill="#c0c0c0"/>
<rect x="495" y="571" width="1" height="42" fill="#c0c0c0"/>
<rect x="503" y="576" width="1" height="37" fill="#c0c0c0"/>
<rect x="511" y="583" width="1" height="30" fill="#c0c0c0"/>
<rect x="519" y="587" width="1" height="26" fill="#c0c0c0"/>
<rect x="527" y="587" width="1" height="26" fill="#c0c0c0"/>
<rect x="535" y="589" width="1" height="24" fill="#c0c0c0"/>
<rect x="543" y="590" width="1" height="23" fill="#c0c0c0"/>
<rect x="551" y="591" width="1" height="22" fill="#c0c0c0"/>
<rect x="559" y="584" width="1" height="29" fill="#c0c0c0"/>
<rect x="567" y="577" width="1" height="36" fill="#c0c0c0"/>
<rect x="567" y="577" width="1" height="36" fill="#c0c0c0"/>
<rect x="575" y="574" width="1" height="39" fill="#c0c0c0"/>
<rect x="583" y="571" width="1" height="42" fill="#c0c0c0"/>
<rect x="591" y="573" width="1" height="40" fill="#c0c0c0"/>
<rect x="599" y="572" width="1" height="41" fill="#c0c0c0"/>
<rect x="607" y="571" width="1" height="42" fill="#c0c0c0"/>
<rect x="615" y="573" width="1" height="40" fill="#c0c0c0"/>
<rect x="623" y="572" width="1" height="41" fill="#c0c0c0"/>
<rect x="631" y="574" width="1" height="39" fill="#c0c0c0"/>
<rect x="639" y="581" width="1" height="32" fill="#c0c0c0"/>
<rect x="647" y="581" width="1" height="32" fill="#c0c0c0"/>
<rect x="655" y="587" width="1" height="26" fill="#c0c0c0"/>
<rect x="663" y="591" width="1" height="22" fill="#c0c0c0"/>
<rect x="671" y="598" width="1" height="15" fill="#c0c0c0"/>
<rect x="679" y="604" width="1" height="9" fill="#c0c0c0"/>
<rect x="687" y="611" width="1" height="2" fill="#c0c0c0"/>
<rect x="695" y="612" width="1" height="7" fill="#c0c0c0"/>
<rect x="703" y="612" width="1" height="15" fill="#c0c0c0"/>
<rect x="711" y="612" width="1" height="19" fill="#c0c0c0"/>
<rect x="719" y="612" width="1" height="22" fill="#c0c0c0"/>
<rect x="727" y="612" width="1" height="23" fill="#c0c0c0"/>
<rect x="735" y="612" width="1" height="22" fill="#c0c0c0"/>
<rect x="743" y="612" width="1" height="19" fill="#c0c0c0"/>
<rect x="751" y="612" width="1" height="16" fill="#c0c0c0"/>
<rect x="759" y="612" width="1" height="14" fill="#c0c0c0"/>
<rect x="767" y="612" width="1" height="13" fill="#c0c0c0"/>
<rect x="775" y="612" width="1" height="12" fill="#c0c0c0"/>
<rect x="783" y="612" width="1" height="9" fill="#c0c0c0"/>
<rect x="791" y="612" width="1" height="4" fill="#c0c0c0"/>
<rect x="799" y="612" width="1" height="3" fill="#c0c0c0"/>
<rect x="807" y="612" width="1" height="5" fill="#c0c0c0"/>
<rect x="815" y="612" width="1" height="7" fill="#c0c0c0"/>
<rect x="823" y="612" width="1" height="6" fill="#c0c0c0"/>
<rect x="831" y="612" width="1" height="4" fill="#c0c0c0"/>
<rect x="839" y="612" width="1" height="3" fill="#c0c0c0"/>
<rect x="847" y="611" width="1" height="2" fill="#c0c0c0"/>
<rect x="855" y="607" width="1" height="6" fill="#c0c0c0"/>
<rect x="863" y="605" width="1" height="8" fill="#c0c0c0"/>
<rect x="871" y="600" width="1" height="13" fill="#c0c0c0"/>
<rect x="879" y="596" width="1" height="17" fill="#c0c0c0"/>
<rect x="887" y="593" width="1" height="20" fill="#c0c0c0"/>
<rect x="895" y="589" width="1" height="24" fill="#c0c0c0"/>
<rect x="903" y="586" width="1" height="27" fill="#c0c0c0"/>
<rect x="911" y="585" width="1" height="28" fill="#c0c0c0"/>
<rect x="919" y="585" width="1" height="28" fill="#c0c0c0"/>
<rect x="927" y="583" width="1" height="30" fill="#c0c0c0"/>
<rect x="935" y="578" width="1" height="35" fill="#c0c0c0"/>
<rect x="943" y="580" width="1" height="33" fill="#c0c0c0"/>
<rect x="951" y="583" width="1" height="30" fill="#c0c0c0"/>
<rect x="959" y="583" width="1" height="30" fill="#c0c0c0"/>
<rect x="967" y="581" width="1" height="32" fill="#c0c0c0"/>
<rect x="975" y="581" width="1" height="32" fill="#c0c0c0"/>
<rect x="983" y="582" width="1" height="31" fill="#c0c0c0"/>
<rect x="991" y="578" width="1" height="35" fill="#c0c0c0"/>
<rect x="999" y="575" width="1" height="38" fill="#c0c0c0"/>
<rect x="1007" y="571" width="1" height="42" fill="#c0c0c0"/>
<rect x="1015" y="568" width="1" height="45" fill="#c0c0c0"/>
<rect x="1023" y="567" width="1" height="46" fill="#c0c0c0"/>
<rect x="1031" y="570" width="1" height="43" fill="#c0c0c0"/>
<rect x="1039" y="575" width="1" height="38" fill="#c0c0c0"/>
<rect x="1047" y="579" width="1" height="34" fill="#c0c0c0"/>
<rect x="1055" y="585" width="1" height="28" fill="#c0c0c0"/>
<rect x="1063" y="592" width="1" height="21" fill="#c0c0c0"/>
<rect x="1071" y="600" width="1" height="13" fill="#c0c0c0"/>
<rect x="1079" y="606" width="1" height="7" fill="#c0c0c0"/>
<rect x="1095" y="612" width="1" height="5" fill="#c0c0c0"/>
<rect x="1103" y="612" width="1" height="10" fill="#c0c0c0"/>
<rect x="1111" y="612" width="1" height="18" fill="#c0c0c0"/>
<rect x="1119" y="612" width="1" height="21" fill="#c0c0c0"/>
<rect x="1127" y="612" width="1" height="24" fill="#c0c0c0"/>
<rect x="1127" y="612" width="1" height="24" fill="#c0c0c0"/>
<rect x="1135" y="612" width="1" height="26" fill="#c0c0c0"/>
<rect x="1143" y="612" width="1" height="26" fill="#c0c0c0"/>
<rect x="1151" y="612" width="1" height="23" fill="#c0c0c0"/>
<rect x="1159" y="612" width="1" height="20" fill="#c0c0c0"/>
<rect x="1167" y="612" width="1" height="18" fill="#c0c0c0"/>
<rect x="1175" y="612" width="1" height="13" fill="#c0c0c0"/>
<rect x="1183" y="612" width="1" height="10" fill="#c0c0c0"/>
<rect x="1191" y="612" width="1" height="4" fill="#c0c0c0"/>
<rect x="1199" y="612" width="1" height="2" fill="#c0c0c0"/>
<rect x="1215" y="612" width="1" height="1" fill="#c0c0c0"/>
<rect x="1223" y="609" width="1" height="4" fill="#c0c0c0"/>
<rect x="1231" y="607" width="1" height="6" fill="#c0c0c0"/>
<rect x="1239" y="608" width="1" height="5" fill="#c0c0c0"/>
<rect x="1247" y="611" width="1" height="2" fill="#c0c0c0"/>
<rect x="1271" y="612" width="1" height="1" fill="#c0c0c0"/>
<rect x="1279" y="610" width="1" height="3" fill="#c0c0c0"/>
<rect x="1287" y="606" width="1" height="7" fill="#c0c0c0"/>
<rect x="1295" y="605" width="1" height="8" fill="#c0c0c0"/>
<rect x="1303" y="602" width="1" height="11" fill="#c0c0c0"/>
<rect x="1311" y="598" width="1" height="15" fill="#c0c0c0"/>
<rect x="1319" y="596" width="1" height="17" fill="#c0c0c0"/>
<rect x="1327" y="594" width="1" height="19" fill="#c0c0c0"/>
<rect x="1335" y="593" width="1" height="20" fill="#c0c0c0"/>
<rect x="1343" y="590" width="1" height="23" fill="#c0c0c0"/>
<rect x="1351" y="588" width="1" height="25" fill="#c0c0c0"/>
<rect x="1359" y="586" width="1" height="27" fill="#c0c0c0"/>
<rect x="1367" y="584" width="1" height="29" fill="#c0c0c0"/>
<rect x="1375" y="583" width="1" height="30" fill="#c0c0c0"/>
<rect x="1383" y="587" width="1" height="26" fill="#c0c0c0"/>
<rect x="1391" y="589" width="1" height="24" fill="#c0c0c0"/>
<rect x="1399" y="590" width="1" height="23" fill="#c0c0c0"/>
<rect x="1407" y="591" width="1" height="22" fill="#c0c0c0"/>
<rect x="1407" y="591" width="1" height="22" fill="#c0c0c0"/>
<rect x="1415" y="594" width="1" height="19" fill="#c0c0c0"/>
<rect x="1423" y="595" width="1" height="18" fill="#c0c0c0"/>
<rect x="1431" y="594" width="1" height="19" fill="#c0c0c0"/>
<rect x="1439" y="595" width="1" height="18" fill="#c0c0c0"/>
<rect x="1447" y="602" width="1" height="11" fill="#c0c0c0"/>
<rect x="1455" y="612" width="1" height="1" fill="#c0c0c0"/>
<rect x="1463" y="612" width="1" height="4" fill="#c0c0c0"/>
<rect x="1471" y="612" width="1" height="8" fill="#c0c0c0"/>
<rect x="1479" y="612" width="1" height="8" fill="#c0c0c0"/>
<rect x="1487" y="612" width="1" height="15" fill="#c0c0c0"/>
<rect x="1495" y="612" width="1" height="21" fill="#c0c0c0"/>
<rect x="1503" y="612" width="1" height="24" fill="#c0c0c0"/>
<rect x="1511" y="612" width="1" height="27" fill="#c0c0c0"/>
<rect x="1519" y="612" width="1" height="30" fill="#c0c0c0"/>
<rect x="1527" y="612" width="1" height="33" fill="#c0c0c0"/>
<rect x="1535" y="612" width="1" height="35" fill="#c0c0c0"/>
<rect x="1543" y="612" width="1" height="31" fill="#c0c0c0"/>
<rect x="1551" y="612" width="1" height="26" fill="#c0c0c0"/>
<rect x="1559" y="612" width="1" height="23" fill="#c0c0c0"/>
<rect x="1567" y="612" width="1" height="18" fill="#c0c0c0"/>
<rect x="1575" y="612" width="1" height="20" fill="#c0c0c0"/>
<rect x="1583" y="612" width="1" height="20" fill="#c0c0c0"/>
<rect x="1591" y="612" width="1" height="16" fill="#c0c0c0"/>
<rect x="1599" y="612" width="1" height="14" fill="#c0c0c0"/>
<rect x="1607" y="612" width="1" height="10" fill="#c0c0c0"/>
<rect x="1615" y="612" width="1" height="5" fill="#c0c0c0"/>
<rect x="1631" y="607" width="1" height="6" fill="#c0c0c0"/>
<rect x="1639" y="598" width="1" height="15" fill="#c0c0c0"/>
<rect x="1647" y="592" width="1" height="21" fill="#c0c0c0"/>
<rect x="1655" y="586" width="1" height="27" fill="#c0c0c0"/>
<rect x="1663" y="583" width="1" height="30" fill="#c0c0c0"/>
</g>
<polyline points="7.5,556.7 11.5,556.0 15.5,555.3 19.5,556.1 23.5,556.9 27.5,557.9 31.5,558.8 35.5,560.7 39.5,562.7 43.5,565.6 47.5,568.6 51.5,571.8 55.5,575.5 59.5,579.3 63.5,583.4 67.5,587.6 71.5,591.5 75.5,595.2 79.5,598.6 83.5,602.1 87.5,605.6 91.5,608.4 95.5,610.9 99.5,613.2 103.5,615.5 107.5,617.2 111.5,618.6 115.5,619.5 119.5,620.2 123.5,620.8 127.5,621.1 131.5,621.3 135.5,621.5 139.5,621.5 143.5,621.5 147.5,621.6 151.5,621.8 155.5,622.2 159.5,622.4 163.5,622.0 167.5,621.6 171.5,621.4 175.5,621.2 179.5,619.9 183.5,618.7 187.5,617.8 191.5,616.5 195.5,615.0 199.5,613.3 203.5,611.3 207.5,609.3 211.5,606.4 215.5,603.5 219.5,600.6 223.5,597.2 227.5,593.7 231.5,590.2 235.5,586.2 239.5,582.4 243.5,578.7 247.5,574.7 251.5,571.5 255.5,568.5 259.5,565.3 263.5,562.6 267.5,560.3 271.5,558.6 275.5,557.0 279.5,555.5 283.5,554.6 287.5,554.0 291.5,553.4 295.5,552.8 299.5,552.4 303.5,552.1 307.5,551.9 311.5,551.6 315.5,551.5 319.5,551.5 323.5,551.5 327.5,551.5 331.5,550.9 335.5,550.3 339.5,549.5 343.5,548.7 347.5,547.6 351.5,546.4 355.5,545.4 359.5,544.6 363.5,543.9 367.5,543.5 371.5,543.0 375.5,542.5 379.5,543.0 383.5,543.5 387.5,543.9 391.5,544.3 395.5,544.9 399.5,545.5 403.5,546.1 407.5,547.1 411.5,548.2 415.5,549.7 419.5,551.0 423.5,552.2 427.5,553.7 431.5,555.2 435.5,556.7 439.5,557.2 443.5,557.8 447.5,558.3 451.5,558.5 455.5,558.7 459.5,558.8 463.5,559.0 467.5,558.8 471.5,558.6 475.5,558.4 479.5,558.3 483.5,558.3 487.5,558.3 491.5,558.8 495.5,559.5 499.5,560.0 503.5,560.8 507.5,562.1 511.5,563.2 515.5,564.7 519.5,566.5 523.5,568.2 527.5,569.9 531.5,571.7 535.5,573.7 539.5,575.5 543.5,577.2 547.5,578.9 551.5,580.8 555.5,582.5 559.5,583.3 563.5,583.8 567.5,584.1 571.5,583.8 575.5,583.5 579.5,583.1 583.5,582.6 587.5,582.1 591.5,581.5 595.5,580.7 599.5,579.5 603.5,578.3 607.5,577.3 611.5,576.3 615.5,575.3 619.5,574.5 623.5,573.8 627.5,573.1 631.5,572.6 635.5,572.3 639.5,572.3 643.5,572.6 647.5,573.4 651.5,574.3 655.5,575.3 659.5,576.0 663.5,577.0 667.5,578.5 671.5,580.1 675.5,581.7 679.5,583.8 683.5,585.9 687.5,588.0 691.5,590.3 695.5,593.0 699.5,595.9 703.5,599.1 707.5,602.0 711.5,604.9 715.5,608.0 719.5,610.8 723.5,613.5 727.5,616.1 731.5,618.8 735.5,621.2 739.5,623.2 743.5,625.1 747.5,626.8 751.5,628.0 755.5,628.7 759.5,629.3 763.5,630.0 767.5,630.3 771.5,630.3 775.5,630.3 779.5,629.8 783.5,629.2 787.5,628.2 791.5,627.1 795.5,625.9 799.5,624.8 803.5,624.1 807.5,623.5 811.5,622.6 815.5,621.7 819.5,621.1 823.5,620.4 827.5,619.9 831.5,619.3 835.5,618.6 839.5,617.8 843.5,617.4 847.5,616.6 851.5,615.9 855.5,615.3 859.5,614.2 863.5,613.2 867.5,612.3 871.5,611.5 875.5,610.5 879.5,609.3 883.5,608.1 887.5,606.6 891.5,604.9 895.5,603.2 899.5,601.2 903.5,599.3 907.5,598.0 911.5,596.5 915.5,595.0 919.5,593.5 923.5,591.9 927.5,590.2 931.5,588.8 935.5,587.5 939.5,586.4 943.5,585.6 947.5,584.9 951.5,584.4 955.5,583.9 959.5,583.5 963.5,583.1 967.5,582.4 971.5,581.9 975.5,581.5 979.5,581.5 983.5,581.3 987.5,580.6 991.5,580.2 995.5,579.8 999.5,579.4 1003.5,578.9 1007.5,578.5 1011.5,578.0 1015.5,577.2 1019.5,576.1 1023.5,575.2 1027.5,574.7 1031.5,574.3 1035.5,573.9 1039.5,573.4 1043.5,573.3 1047.5,573.3 1051.5,573.3 1055.5,573.6 1059.5,574.4 1063.5,575.5 1067.5,577.0 1071.5,578.5 1075.5,580.0 1079.5,582.1 1083.5,584.5 1087.5,587.4 1091.5,589.9 1095.5,592.3 1099.5,595.1 1103.5,598.0 1107.5,600.9 1111.5,604.0 1115.5,606.8 1119.5,609.7 1123.5,613.1 1127.5,615.3 1131.5,618.0 1135.5,621.3 1139.5,624.0 1143.5,626.2 1147.5,627.7 1151.5,629.2 1155.5,630.5 1159.5,631.4 1163.5,632.3 1167.5,633.2 1171.5,633.3 1175.5,633.3 1179.5,633.0 1183.5,632.2 1187.5,631.4 1191.5,630.4 1195.5,629.2 1199.5,627.9 1203.5,626.6 1207.5,625.4 1211.5,623.9 1215.5,622.2 1219.5,620.7 1223.5,619.4 1227.5,618.1 1231.5,616.7 1235.5,615.1 1239.5,613.5 1243.5,612.7 1247.5,612.3 1251.5,611.9 1255.5,611.4 1259.5,610.9 1263.5,610.4 1267.5,610.3 1271.5,610.2 1275.5,609.5 1279.5,609.5 1283.5,609.3 1287.5,609.0 1291.5,608.8 1295.5,608.5 1299.5,608.3 1303.5,608.3 1307.5,607.9 1311.5,607.2 1315.5,606.2 1319.5,605.2 1323.5,604.1 1327.5,603.5 1331.5,602.3 1335.5,600.9 1339.5,599.8 1343.5,598.6 1347.5,597.5 1351.5,596.4 1355.5,595.2 1359.5,594.0 1363.5,592.8 1367.5,591.4 1371.5,590.2 1375.5,589.5 1379.5,588.8 1383.5,588.3 1387.5,587.7 1391.5,587.5 1395.5,587.5 1399.5,587.5 1403.5,587.5 1407.5,587.5 1411.5,587.5 1415.5,587.5 1419.5,587.8 1423.5,588.4 1427.5,588.9 1431.5,589.4 1435.5,590.0 1439.5,590.7 1443.5,591.6 1447.5,592.6 1451.5,593.8 1455.5,595.3 1459.5,596.8 1463.5,598.2 1467.5,599.6 1471.5,601.4 1475.5,603.1 1479.5,604.8 1483.5,606.6 1487.5,608.5 1491.5,610.4 1495.5,612.7 1499.5,615.3 1503.5,618.1 1507.5,620.7 1511.5,623.0 1515.5,625.2 1519.5,627.0 1523.5,628.9 1527.5,630.8 1531.5,632.5 1535.5,634.2 1539.5,635.9 1543.5,637.0 1547.5,638.1 1551.5,639.2 1555.5,640.0 1559.5,640.2 1563.5,640.0 1567.5,639.6 1571.5,639.5 1575.5,639.4 1579.5,638.8 1583.5,638.4 1587.5,637.9 1591.5,637.1 1595.5,635.9 1599.5,634.6 1603.5,633.5 1607.5,632.2 1611.5,630.8 1615.5,629.5 1619.5,628.0 1623.5,626.5 1627.5,624.7 1631.5,623.0 1635.5,621.2 1639.5,619.2 1643.5,616.8 1647.5,614.2 1651.5,611.6 1655.5,609.5 1659.5,606.8" fill="none" stroke="#ff0000" stroke-width="1" stroke-dasharray="3 3"/>
<text xml:space="preserve" x="11" y="543" font-size="10" fill="#000" text-anchor="start" textLength="133" lengthAdjust="spacingAndGlyphs" stroke="#000" stroke-width="0.18">MACD(12,26,9) 21.8126 5.7964</text>
<rect x="1682" y="532" width="1" height="1" fill="#000"/>
<text xml:space="preserve" x="1685" y="541" font-size="10" fill="#000" text-anchor="start" textLength="32.5" lengthAdjust="spacingAndGlyphs" stroke="#000" stroke-width="0.18">58.1136</text>
<rect x="1682" y="612" width="2" height="1" fill="#000"/>
<text xml:space="preserve" x="1685" y="616" font-size="10" fill="#000" text-anchor="start" textLength="18" lengthAdjust="spacingAndGlyphs" stroke="#000" stroke-width="0.18">0.00</text>
<rect x="1682" y="652" width="1" height="1" fill="#000"/>
<text xml:space="preserve" x="1685" y="650" font-size="10" fill="#000" text-anchor="start" textLength="35.5" lengthAdjust="spacingAndGlyphs" stroke="#000" stroke-width="0.18">-29.0017</text>
<line x1="8" y1="687.5" x2="1680" y2="687.5" stroke="#c0c0c0" stroke-width="1" stroke-dasharray="3 3"/>
<line x1="8" y1="727.5" x2="1680" y2="727.5" stroke="#c0c0c0" stroke-width="1" stroke-dasharray="3 3"/>
<polyline points="7.5,702.5 15.5,707.2 23.5,708.8 31.5,712.7 39.5,714.2 47.5,714.2 55.5,716.9 63.5,715.4 71.5,713.5 79.5,711.7 87.5,710.3 95.5,709.2 103.5,707.6 111.5,708.7 119.5,711.3 127.5,710.4 135.5,704.5 143.5,713.0 151.5,713.3 159.5,712.5 167.5,704.7 175.5,697.1 183.5,694.5 191.5,696.6 199.5,691.8 207.5,687.4 215.5,685.3 223.5,693.0 231.5,687.0 239.5,685.4 247.5,686.1 255.5,698.3 263.5,698.3 271.5,699.5 279.5,697.6 287.5,696.4 295.5,691.7 303.5,688.4 311.5,687.3 319.5,690.4 327.5,688.3 335.5,696.9 343.5,689.8 351.5,692.3 359.5,691.4 367.5,697.9 375.5,699.5 383.5,699.5 391.5,696.5 399.5,702.0 407.5,699.4 415.5,697.4 423.5,694.6 431.5,695.4 439.5,694.3 447.5,692.5 455.5,689.5 463.5,690.4 471.5,691.5 479.5,698.2 487.5,700.3 495.5,706.8 503.5,704.3 511.5,707.9 519.5,707.5 527.5,700.5 535.5,704.0 543.5,701.5 551.5,703.1 559.5,692.3 567.5,690.0 575.5,693.8 583.5,693.4 591.5,699.5 599.5,696.4 607.5,695.2 615.5,699.7 623.5,696.3 631.5,699.7 639.5,708.2 647.5,702.1 655.5,707.7 663.5,707.2 671.5,711.0 679.5,711.3 687.5,714.8 695.5,718.8 703.5,720.4 711.5,717.5 719.5,717.2 727.5,713.6 735.5,711.2 743.5,707.5 751.5,707.2 759.5,709.1 767.5,709.2 775.5,708.3 783.5,706.7 791.5,699.8 799.5,707.0 807.5,711.1 815.5,712.5 823.5,709.3 831.5,704.6 839.5,705.9 847.5,699.0 855.5,698.3 863.5,701.5 871.5,696.5 879.5,694.2 887.5,694.2 895.5,692.5 903.5,691.2 911.5,692.4 919.5,696.0 927.5,692.0 935.5,687.7 943.5,699.0 951.5,702.4 959.5,699.4 967.5,694.8 975.5,695.4 983.5,698.5 991.5,692.0 999.5,690.0 1007.5,688.4 1015.5,687.5 1023.5,691.5 1031.5,697.8 1039.5,704.0 1047.5,703.7 1055.5,708.9 1063.5,712.4 1071.5,715.3 1079.5,714.5 1087.5,718.1 1095.5,718.3 1103.5,719.4 1111.5,726.1 1119.5,719.2 1127.5,719.5 1135.5,719.5 1143.5,716.8 1151.5,709.8 1159.5,710.5 1167.5,707.4 1175.5,703.6 1183.5,704.5 1191.5,697.8 1199.5,704.9 1207.5,703.5 1215.5,705.5 1223.5,701.5 1231.5,701.3 1239.5,706.2 1247.5,711.0 1255.5,712.5 1263.5,707.4 1271.5,703.5 1279.5,700.6 1287.5,697.6 1295.5,703.1 1303.5,699.7 1311.5,694.9 1319.5,697.4 1327.5,697.5 1335.5,695.3 1343.5,693.7 1351.5,692.3 1359.5,690.5 1367.5,689.2 1375.5,690.8 1383.5,705.7 1391.5,701.3 1399.5,699.3 1407.5,701.2 1415.5,705.1 1423.5,702.6 1431.5,697.9 1439.5,701.0 1447.5,715.4 1455.5,722.1 1463.5,715.6 1471.5,715.3 1479.5,710.8 1487.5,719.7 1495.5,721.7 1503.5,720.5 1511.5,720.5 1519.5,721.5 1527.5,723.2 1535.5,724.5 1543.5,709.8 1551.5,707.6 1559.5,709.1 1567.5,705.6 1575.5,715.1 1583.5,712.6 1591.5,706.1 1599.5,708.3 1607.5,703.6 1615.5,701.3 1623.5,700.1 1631.5,695.4 1639.5,690.6 1647.5,690.5 1655.5,690.5 1663.5,691.3" fill="none" stroke="#1e90ff" stroke-width="1"/>
<text xml:space="preserve" x="11" y="668" font-size="10" fill="#000" text-anchor="start" textLength="67.5" lengthAdjust="spacingAndGlyphs" stroke="#000" stroke-width="0.18">RSI(14) 66.0658</text>
<rect x="1682" y="657" width="1" height="1" fill="#000"/>
<text xml:space="preserve" x="1685" y="666" font-size="10" fill="#000" text-anchor="start" textLength="14.5" lengthAdjust="spacingAndGlyphs" stroke="#000" stroke-width="0.18">100</text>
<text xml:space="preserve" x="1684.5" y="691" font-size="10" fill="#000" text-anchor="start" textLength="9.5" lengthAdjust="spacingAndGlyphs" stroke="#000" stroke-width="0.18">70</text>
<text xml:space="preserve" x="1684.5" y="731" font-size="10" fill="#000" text-anchor="start" textLength="9.5" lengthAdjust="spacingAndGlyphs" stroke="#000" stroke-width="0.18">30</text>
<rect x="1682" y="757" width="1" height="1" fill="#000"/>
<text xml:space="preserve" x="1685" y="755" font-size="10" fill="#000" text-anchor="start" textLength="4.7" lengthAdjust="spacingAndGlyphs" stroke="#000" stroke-width="0.18">0</text>
<rect x="7" y="759" width="1" height="3" fill="#000"/>
<text xml:space="preserve" x="6.5" y="771" font-size="10" fill="#000" text-anchor="start" textLength="52.8" lengthAdjust="spacingAndGlyphs" stroke="#000" stroke-width="0.18">31 Mar 2020</text>
<rect x="71" y="759" width="1" height="3" fill="#000"/>
<text xml:space="preserve" x="70.5" y="771" font-size="10" fill="#000" text-anchor="start" textLength="48.1" lengthAdjust="spacingAndGlyphs" stroke="#000" stroke-width="0.18">2 Apr 00:00</text>
<rect x="135" y="759" width="1" height="3" fill="#000"/>
<text xml:space="preserve" x="134.5" y="771" font-size="10" fill="#000" text-anchor="start" textLength="48.1" lengthAdjust="spacingAndGlyphs" stroke="#000" stroke-width="0.18">3 Apr 08:00</text>
<rect x="199" y="759" width="1" height="3" fill="#000"/>
<text xml:space="preserve" x="198.5" y="771" font-size="10" fill="#000" text-anchor="start" textLength="48.1" lengthAdjust="spacingAndGlyphs" stroke="#000" stroke-width="0.18">6 Apr 12:00</text>
<rect x="263" y="759" width="1" height="3" fill="#000"/>
<text xml:space="preserve" x="262.5" y="771" font-size="10" fill="#000" text-anchor="start" textLength="48.1" lengthAdjust="spacingAndGlyphs" stroke="#000" stroke-width="0.18">7 Apr 20:00</text>
<rect x="327" y="759" width="1" height="3" fill="#000"/>
<text xml:space="preserve" x="326.5" y="771" font-size="10" fill="#000" text-anchor="start" textLength="48.1" lengthAdjust="spacingAndGlyphs" stroke="#000" stroke-width="0.18">9 Apr 04:00</text>
<rect x="391" y="759" width="1" height="3" fill="#000"/>
<text xml:space="preserve" x="390.5" y="771" font-size="10" fill="#000" text-anchor="start" textLength="53.3" lengthAdjust="spacingAndGlyphs" stroke="#000" stroke-width="0.18">13 Apr 08:00</text>
<rect x="455" y="759" width="1" height="3" fill="#000"/>
<text xml:space="preserve" x="454.5" y="771" font-size="10" fill="#000" text-anchor="start" textLength="53.3" lengthAdjust="spacingAndGlyphs" stroke="#000" stroke-width="0.18">14 Apr 16:00</text>
<rect x="519" y="759" width="1" height="3" fill="#000"/>
<text xml:space="preserve" x="518.5" y="771" font-size="10" fill="#000" text-anchor="start" textLength="53.3" lengthAdjust="spacingAndGlyphs" stroke="#000" stroke-width="0.18">16 Apr 00:00</text>
<rect x="583" y="759" width="1" height="3" fill="#000"/>
<text xml:space="preserve" x="582.5" y="771" font-size="10" fill="#000" text-anchor="start" textLength="53.3" lengthAdjust="spacingAndGlyphs" stroke="#000" stroke-width="0.18">17 Apr 08:00</text>
<rect x="647" y="759" width="1" height="3" fill="#000"/>
<text xml:space="preserve" x="646.5" y="771" font-size="10" fill="#000" text-anchor="start" textLength="53.3" lengthAdjust="spacingAndGlyphs" stroke="#000" stroke-width="0.18">20 Apr 12:00</text>
<rect x="711" y="759" width="1" height="3" fill="#000"/>
<text xml:space="preserve" x="710.5" y="771" font-size="10" fill="#000" text-anchor="start" textLength="53.3" lengthAdjust="spacingAndGlyphs" stroke="#000" stroke-width="0.18">21 Apr 20:00</text>
<rect x="775" y="759" width="1" height="3" fill="#000"/>
<text xml:space="preserve" x="774.5" y="771" font-size="10" fill="#000" text-anchor="start" textLength="53.3" lengthAdjust="spacingAndGlyphs" stroke="#000" stroke-width="0.18">23 Apr 04:00</text>
<rect x="839" y="759" width="1" height="3" fill="#000"/>
<text xml:space="preserve" x="838.5" y="771" font-size="10" fill="#000" text-anchor="start" textLength="53.3" lengthAdjust="spacingAndGlyphs" stroke="#000" stroke-width="0.18">24 Apr 12:00</text>
<rect x="903" y="759" width="1" height="3" fill="#000"/>
<text xml:space="preserve" x="902.5" y="771" font-size="10" fill="#000" text-anchor="start" textLength="53.3" lengthAdjust="spacingAndGlyphs" stroke="#000" stroke-width="0.18">27 Apr 16:00</text>
<rect x="967" y="759" width="1" height="3" fill="#000"/>
<text xml:space="preserve" x="966.5" y="771" font-size="10" fill="#000" text-anchor="start" textLength="53.3" lengthAdjust="spacingAndGlyphs" stroke="#000" stroke-width="0.18">29 Apr 00:00</text>
<rect x="1031" y="759" width="1" height="3" fill="#000"/>
<text xml:space="preserve" x="1030.5" y="771" font-size="10" fill="#000" text-anchor="start" textLength="53.3" lengthAdjust="spacingAndGlyphs" stroke="#000" stroke-width="0.18">30 Apr 08:00</text>
<rect x="1095" y="759" width="1" height="3" fill="#000"/>
<text xml:space="preserve" x="1094.5" y="771" font-size="10" fill="#000" text-anchor="start" textLength="51.7" lengthAdjust="spacingAndGlyphs" stroke="#000" stroke-width="0.18">1 May 16:00</text>
<rect x="1159" y="759" width="1" height="3" fill="#000"/>
<text xml:space="preserve" x="1158.5" y="771" font-size="10" fill="#000" text-anchor="start" textLength="51.7" lengthAdjust="spacingAndGlyphs" stroke="#000" stroke-width="0.18">4 May 20:00</text>
<rect x="1223" y="759" width="1" height="3" fill="#000"/>
<text xml:space="preserve" x="1222.5" y="771" font-size="10" fill="#000" text-anchor="start" textLength="51.7" lengthAdjust="spacingAndGlyphs" stroke="#000" stroke-width="0.18">6 May 04:00</text>
<rect x="1287" y="759" width="1" height="3" fill="#000"/>
<text xml:space="preserve" x="1286.5" y="771" font-size="10" fill="#000" text-anchor="start" textLength="51.7" lengthAdjust="spacingAndGlyphs" stroke="#000" stroke-width="0.18">7 May 12:00</text>
<rect x="1351" y="759" width="1" height="3" fill="#000"/>
<text xml:space="preserve" x="1350.5" y="771" font-size="10" fill="#000" text-anchor="start" textLength="51.7" lengthAdjust="spacingAndGlyphs" stroke="#000" stroke-width="0.18">8 May 20:00</text>
<rect x="1415" y="759" width="1" height="3" fill="#000"/>
<text xml:space="preserve" x="1414.5" y="771" font-size="10" fill="#000" text-anchor="start" textLength="57.0" lengthAdjust="spacingAndGlyphs" stroke="#000" stroke-width="0.18">12 May 00:00</text>
<rect x="1479" y="759" width="1" height="3" fill="#000"/>
<text xml:space="preserve" x="1478.5" y="771" font-size="10" fill="#000" text-anchor="start" textLength="57.0" lengthAdjust="spacingAndGlyphs" stroke="#000" stroke-width="0.18">13 May 08:00</text>
<rect x="1543" y="759" width="1" height="3" fill="#000"/>
<text xml:space="preserve" x="1542.5" y="771" font-size="10" fill="#000" text-anchor="start" textLength="57.0" lengthAdjust="spacingAndGlyphs" stroke="#000" stroke-width="0.18">14 May 16:00</text>
<rect x="1607" y="759" width="1" height="3" fill="#000"/>
<text xml:space="preserve" x="1606.5" y="771" font-size="10" fill="#000" text-anchor="start" textLength="57.0" lengthAdjust="spacingAndGlyphs" stroke="#000" stroke-width="0.18">17 May 23:00</text>
<text xml:space="preserve" x="1268" y="442.6" font-size="32.5" fill="#ff2010" text-anchor="start" textLength="233" lengthAdjust="spacingAndGlyphs" font-family="Liberation Sans, Noto Sans CJK SC, sans-serif" style="font-family:'Liberation Sans','Noto Sans CJK SC',sans-serif">多空转折点2875</text>
<rect x="3" y="6" width="1" height="1" fill="#505050"/>
<rect x="5" y="6" width="1" height="1" fill="#505050"/>
<rect x="7" y="6" width="1" height="1" fill="#505050"/>
<rect x="9" y="6" width="1" height="1" fill="#505050"/>
<rect x="11" y="6" width="1" height="1" fill="#505050"/>
<rect x="13" y="6" width="1" height="1" fill="#505050"/>
<rect x="15" y="6" width="1" height="1" fill="#505050"/>
<rect x="3" y="9" width="1" height="1" fill="#505050"/>
<rect x="5" y="9" width="1" height="1" fill="#505050"/>
<rect x="7" y="9" width="1" height="1" fill="#505050"/>
<rect x="9" y="9" width="1" height="1" fill="#505050"/>
<rect x="11" y="9" width="1" height="1" fill="#505050"/>
<rect x="13" y="9" width="1" height="1" fill="#505050"/>
<rect x="15" y="9" width="1" height="1" fill="#505050"/>
<rect x="3" y="13" width="1" height="1" fill="#505050"/>
<rect x="5" y="13" width="1" height="1" fill="#505050"/>
<rect x="7" y="13" width="1" height="1" fill="#505050"/>
<rect x="9" y="13" width="1" height="1" fill="#505050"/>
<rect x="11" y="13" width="1" height="1" fill="#505050"/>
<rect x="13" y="13" width="1" height="1" fill="#505050"/>
<rect x="15" y="13" width="1" height="1" fill="#505050"/>
<rect x="3" y="17" width="1" height="1" fill="#505050"/>
<rect x="5" y="17" width="1" height="1" fill="#505050"/>
<rect x="7" y="17" width="1" height="1" fill="#505050"/>
<rect x="9" y="17" width="1" height="1" fill="#505050"/>
<rect x="11" y="17" width="1" height="1" fill="#505050"/>
<text xml:space="preserve" x="12.5" y="22" font-size="7" fill="#505050" text-anchor="start" font-weight="bold" stroke="#505050" stroke-width="0.18">F</text>
<text xml:space="preserve" x="34" y="18" font-size="12.3" fill="#5a5a5a" text-anchor="start" textLength="7.3" lengthAdjust="spacingAndGlyphs" stroke="#5a5a5a" stroke-width="0.45">A</text>
<rect x="60" y="7" width="1" height="1" fill="#505050"/>
<rect x="60" y="19" width="1" height="1" fill="#505050"/>
<rect x="62" y="7" width="1" height="1" fill="#505050"/>
<rect x="62" y="19" width="1" height="1" fill="#505050"/>
<rect x="64" y="7" width="1" height="1" fill="#505050"/>
<rect x="64" y="19" width="1" height="1" fill="#505050"/>
<rect x="66" y="7" width="1" height="1" fill="#505050"/>
<rect x="66" y="19" width="1" height="1" fill="#505050"/>
<rect x="68" y="7" width="1" height="1" fill="#505050"/>
<rect x="68" y="19" width="1" height="1" fill="#505050"/>
<rect x="70" y="7" width="1" height="1" fill="#505050"/>
<rect x="70" y="19" width="1" height="1" fill="#505050"/>
<rect x="60" y="7" width="1" height="1" fill="#505050"/>
<rect x="71" y="7" width="1" height="1" fill="#505050"/>
<rect x="60" y="9" width="1" height="1" fill="#505050"/>
<rect x="71" y="9" width="1" height="1" fill="#505050"/>
<rect x="60" y="11" width="1" height="1" fill="#505050"/>
<rect x="71" y="11" width="1" height="1" fill="#505050"/>
<rect x="60" y="13" width="1" height="1" fill="#505050"/>
<rect x="71" y="13" width="1" height="1" fill="#505050"/>
<rect x="60" y="15" width="1" height="1" fill="#505050"/>
<rect x="71" y="15" width="1" height="1" fill="#505050"/>
<rect x="60" y="17" width="1" height="1" fill="#505050"/>
<rect x="71" y="17" width="1" height="1" fill="#505050"/>
<rect x="60" y="19" width="1" height="1" fill="#505050"/>
<rect x="71" y="19" width="1" height="1" fill="#505050"/>
<path d="M62,10.2 H69.8 V11.9 H66.9 V18 H65.3 V11.9 H62 Z" fill="#505050" shape-rendering="auto"/>
<path d="M86.9,10.6 L90.5,6.9 L94.1,10.6 L92,10.6 L92,11.8 L89,11.8 L89,10.6 Z M94.1,16.2 L96.1,16.2 L96.1,15 L98.9,15 L98.9,16.2 L100.9,16.2 L97.5,20 Z" fill="#505050" shape-rendering="auto"/>
<path d="M89,14.3 L91.3,16.7 L95.8,11.2" fill="none" stroke="#505050" stroke-width="1.2" shape-rendering="auto"/>
<path d="M107.9,12 L113.1,12 L110.5,15.3 Z" fill="#000" shape-rendering="auto"/>
<rect x="119" y="0" width="1" height="25" fill="#a0a0a0"/>
<rect x="120" y="0" width="1" height="25" fill="#ffffff"/>
<rect x="123" y="3" width="3" height="1" fill="#b4b4b4"/>
<rect x="123" y="5" width="3" height="1" fill="#b4b4b4"/>
<rect x="123" y="7" width="3" height="1" fill="#b4b4b4"/>
<rect x="123" y="9" width="3" height="1" fill="#b4b4b4"/>
<rect x="123" y="11" width="3" height="1" fill="#b4b4b4"/>
<rect x="123" y="13" width="3" height="1" fill="#b4b4b4"/>
<rect x="123" y="15" width="3" height="1" fill="#b4b4b4"/>
<rect x="123" y="17" width="3" height="1" fill="#b4b4b4"/>
<rect x="123" y="19" width="3" height="1" fill="#b4b4b4"/>
<rect x="123" y="21" width="3" height="1" fill="#b4b4b4"/>
<rect x="269" y="1" width="25" height="22" fill="#f8f8f8"/>
<rect x="269" y="1" width="25" height="1" fill="#a0a0a0"/>
<rect x="269" y="1" width="1" height="22" fill="#a0a0a0"/>
<rect x="269" y="22" width="25" height="1" fill="#ffffff"/>
<rect x="293" y="1" width="1" height="22" fill="#ffffff"/>
<text xml:space="preserve" x="140.8" y="17" font-size="10" fill="#404040" text-anchor="middle" textLength="13.9" lengthAdjust="spacingAndGlyphs" stroke="none">M1</text>
<text xml:space="preserve" x="168.8" y="17" font-size="10" fill="#404040" text-anchor="middle" textLength="13.9" lengthAdjust="spacingAndGlyphs" stroke="none">M5</text>
<text xml:space="preserve" x="197.2" y="17" font-size="10" fill="#404040" text-anchor="middle" textLength="19.5" lengthAdjust="spacingAndGlyphs" stroke="none">M15</text>
<text xml:space="preserve" x="225.3" y="17" font-size="10" fill="#404040" text-anchor="middle" textLength="19.5" lengthAdjust="spacingAndGlyphs" stroke="none">M30</text>
<text xml:space="preserve" x="253.5" y="17" font-size="10" fill="#404040" text-anchor="middle" textLength="12.8" lengthAdjust="spacingAndGlyphs" stroke="none">H1</text>
<text xml:space="preserve" x="280.9" y="17" font-size="10" fill="#404040" text-anchor="middle" textLength="12.8" lengthAdjust="spacingAndGlyphs" stroke="none">H4</text>
<text xml:space="preserve" x="309.4" y="17" font-size="10" fill="#404040" text-anchor="middle" textLength="12.8" lengthAdjust="spacingAndGlyphs" stroke="none">D1</text>
<text xml:space="preserve" x="338.2" y="17" font-size="10" fill="#404040" text-anchor="middle" textLength="15.0" lengthAdjust="spacingAndGlyphs" stroke="none">W1</text>
<text xml:space="preserve" x="365.0" y="17" font-size="10" fill="#404040" text-anchor="middle" textLength="15.6" lengthAdjust="spacingAndGlyphs" stroke="none">MN</text>
<rect x="380" y="0" width="1" height="25" fill="#a0a0a0"/>
<rect x="381" y="0" width="1" height="25" fill="#ffffff"/>
</svg>
</body></html>
